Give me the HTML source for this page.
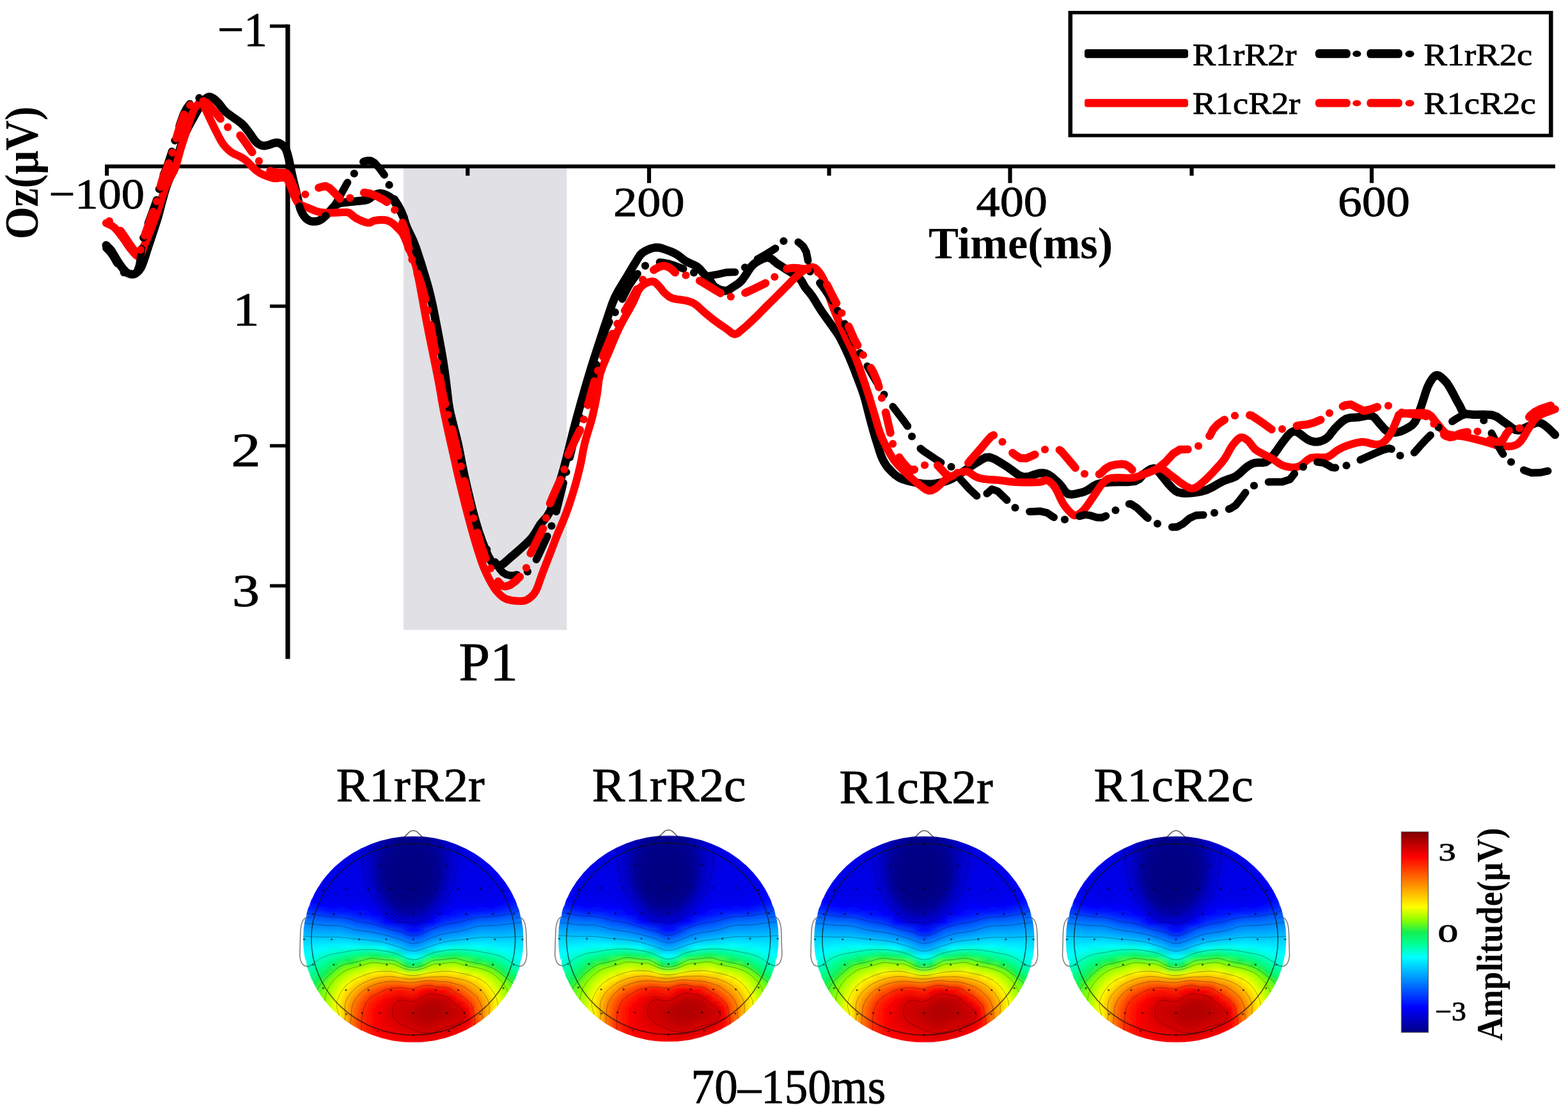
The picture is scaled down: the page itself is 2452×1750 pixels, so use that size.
<!DOCTYPE html>
<html lang="en"><head><meta charset="utf-8"><title>ERP Oz P1 waveforms and topographies</title>
<style>
html,body{margin:0;padding:0;background:#fff}
body{width:2452px;height:1750px;overflow:hidden}
svg{display:block;font-family:"Liberation Serif","DejaVu Serif",serif}
</style></head>
<body>
<svg width="2452" height="1750" viewBox="0 0 2452 1750">
<defs>
<filter id="tb" x="-5%" y="-5%" width="110%" height="110%"><feGaussianBlur stdDeviation="1.2"/></filter>
<linearGradient id="g0" x1="0" y1="0" x2="0" y2="1"><stop offset="0.000" stop-color="#006aff"/><stop offset="0.042" stop-color="#0073ff"/><stop offset="0.083" stop-color="#007cff"/><stop offset="0.125" stop-color="#0086ff"/><stop offset="0.167" stop-color="#008eff"/><stop offset="0.208" stop-color="#0097ff"/><stop offset="0.250" stop-color="#00a0ff"/><stop offset="0.292" stop-color="#00a8ff"/><stop offset="0.333" stop-color="#00afff"/><stop offset="0.375" stop-color="#00b8ff"/><stop offset="0.417" stop-color="#00c1ff"/><stop offset="0.458" stop-color="#00c9ff"/><stop offset="0.500" stop-color="#00d0ff"/><stop offset="0.542" stop-color="#00d7ff"/><stop offset="0.583" stop-color="#00ddff"/><stop offset="0.625" stop-color="#00e2ff"/><stop offset="0.667" stop-color="#00e8ff"/><stop offset="0.708" stop-color="#00ecff"/><stop offset="0.750" stop-color="#00f1ff"/><stop offset="0.792" stop-color="#00f5ff"/><stop offset="0.833" stop-color="#00faff"/><stop offset="0.875" stop-color="#00feff"/><stop offset="0.917" stop-color="#00fffb"/><stop offset="0.958" stop-color="#00fff4"/><stop offset="1.000" stop-color="#00ffed"/></linearGradient><linearGradient id="g1" x1="0" y1="0" x2="0" y2="1"><stop offset="0.000" stop-color="#001dff"/><stop offset="0.042" stop-color="#002bff"/><stop offset="0.083" stop-color="#003aff"/><stop offset="0.125" stop-color="#004dff"/><stop offset="0.167" stop-color="#005fff"/><stop offset="0.208" stop-color="#006eff"/><stop offset="0.250" stop-color="#007eff"/><stop offset="0.292" stop-color="#008dff"/><stop offset="0.333" stop-color="#009bff"/><stop offset="0.375" stop-color="#00a8ff"/><stop offset="0.417" stop-color="#00b5ff"/><stop offset="0.458" stop-color="#00c4ff"/><stop offset="0.500" stop-color="#00d1ff"/><stop offset="0.542" stop-color="#00dcff"/><stop offset="0.583" stop-color="#00e5ff"/><stop offset="0.625" stop-color="#00eeff"/><stop offset="0.667" stop-color="#00f6ff"/><stop offset="0.708" stop-color="#00fdff"/><stop offset="0.750" stop-color="#00fff7"/><stop offset="0.792" stop-color="#00ffeb"/><stop offset="0.833" stop-color="#00ffdf"/><stop offset="0.875" stop-color="#00ffd3"/><stop offset="0.917" stop-color="#00ffc5"/><stop offset="0.958" stop-color="#00ffb6"/><stop offset="1.000" stop-color="#00ffa7"/></linearGradient><linearGradient id="g2" x1="0" y1="0" x2="0" y2="1"><stop offset="0.000" stop-color="#0000fd"/><stop offset="0.042" stop-color="#0005ff"/><stop offset="0.083" stop-color="#000fff"/><stop offset="0.125" stop-color="#0020ff"/><stop offset="0.167" stop-color="#0034ff"/><stop offset="0.208" stop-color="#004dff"/><stop offset="0.250" stop-color="#0063ff"/><stop offset="0.292" stop-color="#0078ff"/><stop offset="0.333" stop-color="#008bff"/><stop offset="0.375" stop-color="#009dff"/><stop offset="0.417" stop-color="#00aeff"/><stop offset="0.458" stop-color="#00c0ff"/><stop offset="0.500" stop-color="#00d1ff"/><stop offset="0.542" stop-color="#00dfff"/><stop offset="0.583" stop-color="#00ecff"/><stop offset="0.625" stop-color="#00f7ff"/><stop offset="0.667" stop-color="#00fffc"/><stop offset="0.708" stop-color="#00ffec"/><stop offset="0.750" stop-color="#00ffdd"/><stop offset="0.792" stop-color="#00ffcd"/><stop offset="0.833" stop-color="#00ffbb"/><stop offset="0.875" stop-color="#00ffa6"/><stop offset="0.917" stop-color="#01fe93"/><stop offset="0.958" stop-color="#05fb86"/><stop offset="1.000" stop-color="#09f777"/></linearGradient><linearGradient id="g3" x1="0" y1="0" x2="0" y2="1"><stop offset="0.000" stop-color="#0000f2"/><stop offset="0.042" stop-color="#0000f6"/><stop offset="0.083" stop-color="#0000fc"/><stop offset="0.125" stop-color="#0005ff"/><stop offset="0.167" stop-color="#0015ff"/><stop offset="0.208" stop-color="#002dff"/><stop offset="0.250" stop-color="#004aff"/><stop offset="0.292" stop-color="#0065ff"/><stop offset="0.333" stop-color="#007dff"/><stop offset="0.375" stop-color="#0093ff"/><stop offset="0.417" stop-color="#00a7ff"/><stop offset="0.458" stop-color="#00bcff"/><stop offset="0.500" stop-color="#00d0ff"/><stop offset="0.542" stop-color="#00e2ff"/><stop offset="0.583" stop-color="#00f1ff"/><stop offset="0.625" stop-color="#00ffff"/><stop offset="0.667" stop-color="#00ffea"/><stop offset="0.708" stop-color="#00ffd6"/><stop offset="0.750" stop-color="#00ffc2"/><stop offset="0.792" stop-color="#00ffab"/><stop offset="0.833" stop-color="#01fe93"/><stop offset="0.875" stop-color="#06fa82"/><stop offset="0.917" stop-color="#0cf56d"/><stop offset="0.958" stop-color="#11f059"/><stop offset="1.000" stop-color="#1fef49"/></linearGradient><linearGradient id="g4" x1="0" y1="0" x2="0" y2="1"><stop offset="0.000" stop-color="#0000ee"/><stop offset="0.042" stop-color="#0000ef"/><stop offset="0.083" stop-color="#0000f2"/><stop offset="0.125" stop-color="#0000f7"/><stop offset="0.167" stop-color="#0002ff"/><stop offset="0.208" stop-color="#0013ff"/><stop offset="0.250" stop-color="#0030ff"/><stop offset="0.292" stop-color="#0053ff"/><stop offset="0.333" stop-color="#006fff"/><stop offset="0.375" stop-color="#0089ff"/><stop offset="0.417" stop-color="#00a1ff"/><stop offset="0.458" stop-color="#00b8ff"/><stop offset="0.500" stop-color="#00d0ff"/><stop offset="0.542" stop-color="#00e5ff"/><stop offset="0.583" stop-color="#00f7ff"/><stop offset="0.625" stop-color="#00fff1"/><stop offset="0.667" stop-color="#00ffd7"/><stop offset="0.708" stop-color="#00ffbd"/><stop offset="0.750" stop-color="#00ffa3"/><stop offset="0.792" stop-color="#03fc8c"/><stop offset="0.833" stop-color="#09f775"/><stop offset="0.875" stop-color="#11f15b"/><stop offset="0.917" stop-color="#26f144"/><stop offset="0.958" stop-color="#41f432"/><stop offset="1.000" stop-color="#4ff629"/></linearGradient><linearGradient id="g5" x1="0" y1="0" x2="0" y2="1"><stop offset="0.000" stop-color="#0000ec"/><stop offset="0.042" stop-color="#0000ec"/><stop offset="0.083" stop-color="#0000ec"/><stop offset="0.125" stop-color="#0000ef"/><stop offset="0.167" stop-color="#0000f6"/><stop offset="0.208" stop-color="#0002ff"/><stop offset="0.250" stop-color="#001aff"/><stop offset="0.292" stop-color="#003eff"/><stop offset="0.333" stop-color="#0063ff"/><stop offset="0.375" stop-color="#0080ff"/><stop offset="0.417" stop-color="#009cff"/><stop offset="0.458" stop-color="#00b4ff"/><stop offset="0.500" stop-color="#00d0ff"/><stop offset="0.542" stop-color="#00e8ff"/><stop offset="0.583" stop-color="#00fdff"/><stop offset="0.625" stop-color="#00ffe1"/><stop offset="0.667" stop-color="#00ffc2"/><stop offset="0.708" stop-color="#00ffa3"/><stop offset="0.750" stop-color="#04fc89"/><stop offset="0.792" stop-color="#0cf56e"/><stop offset="0.833" stop-color="#14ee50"/><stop offset="0.875" stop-color="#3df435"/><stop offset="0.917" stop-color="#59f822"/><stop offset="0.958" stop-color="#69fa18"/><stop offset="1.000" stop-color="#6ffb13"/></linearGradient><linearGradient id="g6" x1="0" y1="0" x2="0" y2="1"><stop offset="0.000" stop-color="#0000ec"/><stop offset="0.042" stop-color="#0000eb"/><stop offset="0.083" stop-color="#0000ea"/><stop offset="0.125" stop-color="#0000eb"/><stop offset="0.167" stop-color="#0000ee"/><stop offset="0.208" stop-color="#0000f7"/><stop offset="0.250" stop-color="#0008ff"/><stop offset="0.292" stop-color="#002bff"/><stop offset="0.333" stop-color="#0057ff"/><stop offset="0.375" stop-color="#0078ff"/><stop offset="0.417" stop-color="#0097ff"/><stop offset="0.458" stop-color="#00b1ff"/><stop offset="0.500" stop-color="#00d0ff"/><stop offset="0.542" stop-color="#00ebff"/><stop offset="0.583" stop-color="#00fff9"/><stop offset="0.625" stop-color="#00ffd1"/><stop offset="0.667" stop-color="#00ffab"/><stop offset="0.708" stop-color="#03fc8b"/><stop offset="0.750" stop-color="#0cf56d"/><stop offset="0.792" stop-color="#1bef4c"/><stop offset="0.833" stop-color="#4af62c"/><stop offset="0.875" stop-color="#6cfa15"/><stop offset="0.917" stop-color="#7efd09"/><stop offset="0.958" stop-color="#86fe04"/><stop offset="1.000" stop-color="#8aff01"/></linearGradient><linearGradient id="g7" x1="0" y1="0" x2="0" y2="1"><stop offset="0.000" stop-color="#0000eb"/><stop offset="0.042" stop-color="#0000eb"/><stop offset="0.083" stop-color="#0000ea"/><stop offset="0.125" stop-color="#0000e9"/><stop offset="0.167" stop-color="#0000ea"/><stop offset="0.208" stop-color="#0000ef"/><stop offset="0.250" stop-color="#0000fc"/><stop offset="0.292" stop-color="#0019ff"/><stop offset="0.333" stop-color="#0049ff"/><stop offset="0.375" stop-color="#0071ff"/><stop offset="0.417" stop-color="#0092ff"/><stop offset="0.458" stop-color="#00b0ff"/><stop offset="0.500" stop-color="#00d0ff"/><stop offset="0.542" stop-color="#00eeff"/><stop offset="0.583" stop-color="#00ffee"/><stop offset="0.625" stop-color="#00ffc0"/><stop offset="0.667" stop-color="#00ff94"/><stop offset="0.708" stop-color="#0af774"/><stop offset="0.750" stop-color="#17ee4e"/><stop offset="0.792" stop-color="#4ef629"/><stop offset="0.833" stop-color="#79fc0c"/><stop offset="0.875" stop-color="#8dff00"/><stop offset="0.917" stop-color="#9aff00"/><stop offset="0.958" stop-color="#a1ff00"/><stop offset="1.000" stop-color="#a6ff00"/></linearGradient><linearGradient id="g8" x1="0" y1="0" x2="0" y2="1"><stop offset="0.000" stop-color="#0000ea"/><stop offset="0.042" stop-color="#0000ea"/><stop offset="0.083" stop-color="#0000e9"/><stop offset="0.125" stop-color="#0000e8"/><stop offset="0.167" stop-color="#0000e8"/><stop offset="0.208" stop-color="#0000ea"/><stop offset="0.250" stop-color="#0000f4"/><stop offset="0.292" stop-color="#000aff"/><stop offset="0.333" stop-color="#003bff"/><stop offset="0.375" stop-color="#006aff"/><stop offset="0.417" stop-color="#008eff"/><stop offset="0.458" stop-color="#00aeff"/><stop offset="0.500" stop-color="#00d1ff"/><stop offset="0.542" stop-color="#00f1ff"/><stop offset="0.583" stop-color="#00ffe3"/><stop offset="0.625" stop-color="#00ffae"/><stop offset="0.667" stop-color="#05fa83"/><stop offset="0.708" stop-color="#12f058"/><stop offset="0.750" stop-color="#48f52d"/><stop offset="0.792" stop-color="#7dfd0a"/><stop offset="0.833" stop-color="#98ff00"/><stop offset="0.875" stop-color="#abff00"/><stop offset="0.917" stop-color="#b9ff00"/><stop offset="0.958" stop-color="#c1ff00"/><stop offset="1.000" stop-color="#beff00"/></linearGradient><linearGradient id="g9" x1="0" y1="0" x2="0" y2="1"><stop offset="0.000" stop-color="#0000e9"/><stop offset="0.042" stop-color="#0000e9"/><stop offset="0.083" stop-color="#0000e9"/><stop offset="0.125" stop-color="#0000e8"/><stop offset="0.167" stop-color="#0000e7"/><stop offset="0.208" stop-color="#0000e8"/><stop offset="0.250" stop-color="#0000ef"/><stop offset="0.292" stop-color="#0003ff"/><stop offset="0.333" stop-color="#002fff"/><stop offset="0.375" stop-color="#0063ff"/><stop offset="0.417" stop-color="#008bff"/><stop offset="0.458" stop-color="#00acff"/><stop offset="0.500" stop-color="#00d1ff"/><stop offset="0.542" stop-color="#00f3ff"/><stop offset="0.583" stop-color="#00ffd9"/><stop offset="0.625" stop-color="#00ff9c"/><stop offset="0.667" stop-color="#0cf56c"/><stop offset="0.708" stop-color="#36f339"/><stop offset="0.750" stop-color="#76fc0e"/><stop offset="0.792" stop-color="#9bff00"/><stop offset="0.833" stop-color="#b6ff00"/><stop offset="0.875" stop-color="#ccff00"/><stop offset="0.917" stop-color="#dcff00"/><stop offset="0.958" stop-color="#dfff00"/><stop offset="1.000" stop-color="#d3ff00"/></linearGradient><linearGradient id="g10" x1="0" y1="0" x2="0" y2="1"><stop offset="0.000" stop-color="#0000e8"/><stop offset="0.042" stop-color="#0000e9"/><stop offset="0.083" stop-color="#0000e9"/><stop offset="0.125" stop-color="#0000e8"/><stop offset="0.167" stop-color="#0000e7"/><stop offset="0.208" stop-color="#0000e7"/><stop offset="0.250" stop-color="#0000eb"/><stop offset="0.292" stop-color="#0000fc"/><stop offset="0.333" stop-color="#0025ff"/><stop offset="0.375" stop-color="#005dff"/><stop offset="0.417" stop-color="#0087ff"/><stop offset="0.458" stop-color="#00abff"/><stop offset="0.500" stop-color="#00d1ff"/><stop offset="0.542" stop-color="#00f6ff"/><stop offset="0.583" stop-color="#00ffcf"/><stop offset="0.625" stop-color="#02fd8d"/><stop offset="0.667" stop-color="#14ee52"/><stop offset="0.708" stop-color="#61f91d"/><stop offset="0.750" stop-color="#95ff00"/><stop offset="0.792" stop-color="#b9ff00"/><stop offset="0.833" stop-color="#d6ff00"/><stop offset="0.875" stop-color="#efff00"/><stop offset="0.917" stop-color="#ffff00"/><stop offset="0.958" stop-color="#f6ff00"/><stop offset="1.000" stop-color="#eaff00"/></linearGradient><linearGradient id="g11" x1="0" y1="0" x2="0" y2="1"><stop offset="0.000" stop-color="#0000e7"/><stop offset="0.042" stop-color="#0000e8"/><stop offset="0.083" stop-color="#0000e8"/><stop offset="0.125" stop-color="#0000e8"/><stop offset="0.167" stop-color="#0000e7"/><stop offset="0.208" stop-color="#0000e6"/><stop offset="0.250" stop-color="#0000e9"/><stop offset="0.292" stop-color="#0000f8"/><stop offset="0.333" stop-color="#001cff"/><stop offset="0.375" stop-color="#0057ff"/><stop offset="0.417" stop-color="#0083ff"/><stop offset="0.458" stop-color="#00a8ff"/><stop offset="0.500" stop-color="#00d1ff"/><stop offset="0.542" stop-color="#00f8ff"/><stop offset="0.583" stop-color="#00ffc6"/><stop offset="0.625" stop-color="#06fa80"/><stop offset="0.667" stop-color="#3bf436"/><stop offset="0.708" stop-color="#83fe06"/><stop offset="0.750" stop-color="#afff00"/><stop offset="0.792" stop-color="#d7ff00"/><stop offset="0.833" stop-color="#f7ff00"/><stop offset="0.875" stop-color="#fff000"/><stop offset="0.917" stop-color="#ffe800"/><stop offset="0.958" stop-color="#fff300"/><stop offset="1.000" stop-color="#fff400"/></linearGradient><linearGradient id="g12" x1="0" y1="0" x2="0" y2="1"><stop offset="0.000" stop-color="#0000e5"/><stop offset="0.042" stop-color="#0000e7"/><stop offset="0.083" stop-color="#0000e8"/><stop offset="0.125" stop-color="#0000e8"/><stop offset="0.167" stop-color="#0000e7"/><stop offset="0.208" stop-color="#0000e6"/><stop offset="0.250" stop-color="#0000e8"/><stop offset="0.292" stop-color="#0000f4"/><stop offset="0.333" stop-color="#0014ff"/><stop offset="0.375" stop-color="#004dff"/><stop offset="0.417" stop-color="#007eff"/><stop offset="0.458" stop-color="#00a5ff"/><stop offset="0.500" stop-color="#00d0ff"/><stop offset="0.542" stop-color="#00faff"/><stop offset="0.583" stop-color="#00ffbb"/><stop offset="0.625" stop-color="#0bf56f"/><stop offset="0.667" stop-color="#5ef81f"/><stop offset="0.708" stop-color="#9bff00"/><stop offset="0.750" stop-color="#caff00"/><stop offset="0.792" stop-color="#f5ff00"/><stop offset="0.833" stop-color="#ffea00"/><stop offset="0.875" stop-color="#ffd500"/><stop offset="0.917" stop-color="#ffd000"/><stop offset="0.958" stop-color="#ffd800"/><stop offset="1.000" stop-color="#ffd100"/></linearGradient><linearGradient id="g13" x1="0" y1="0" x2="0" y2="1"><stop offset="0.000" stop-color="#0000e4"/><stop offset="0.042" stop-color="#0000e5"/><stop offset="0.083" stop-color="#0000e7"/><stop offset="0.125" stop-color="#0000e8"/><stop offset="0.167" stop-color="#0000e7"/><stop offset="0.208" stop-color="#0000e6"/><stop offset="0.250" stop-color="#0000e7"/><stop offset="0.292" stop-color="#0000f1"/><stop offset="0.333" stop-color="#000cff"/><stop offset="0.375" stop-color="#0043ff"/><stop offset="0.417" stop-color="#0076ff"/><stop offset="0.458" stop-color="#00a0ff"/><stop offset="0.500" stop-color="#00ceff"/><stop offset="0.542" stop-color="#00fdff"/><stop offset="0.583" stop-color="#00ffae"/><stop offset="0.625" stop-color="#10f25f"/><stop offset="0.667" stop-color="#79fc0d"/><stop offset="0.708" stop-color="#b2ff00"/><stop offset="0.750" stop-color="#e5ff00"/><stop offset="0.792" stop-color="#ffee00"/><stop offset="0.833" stop-color="#ffcf00"/><stop offset="0.875" stop-color="#ffba00"/><stop offset="0.917" stop-color="#ffb400"/><stop offset="0.958" stop-color="#ffb500"/><stop offset="1.000" stop-color="#ffad00"/></linearGradient><linearGradient id="g14" x1="0" y1="0" x2="0" y2="1"><stop offset="0.000" stop-color="#0000e4"/><stop offset="0.042" stop-color="#0000e4"/><stop offset="0.083" stop-color="#0000e6"/><stop offset="0.125" stop-color="#0000e7"/><stop offset="0.167" stop-color="#0000e7"/><stop offset="0.208" stop-color="#0000e7"/><stop offset="0.250" stop-color="#0000e7"/><stop offset="0.292" stop-color="#0000ef"/><stop offset="0.333" stop-color="#0007ff"/><stop offset="0.375" stop-color="#0038ff"/><stop offset="0.417" stop-color="#006eff"/><stop offset="0.458" stop-color="#009bff"/><stop offset="0.500" stop-color="#00cbff"/><stop offset="0.542" stop-color="#00fffe"/><stop offset="0.583" stop-color="#00ffa2"/><stop offset="0.625" stop-color="#14ee50"/><stop offset="0.667" stop-color="#8bff00"/><stop offset="0.708" stop-color="#c8ff00"/><stop offset="0.750" stop-color="#ffff00"/><stop offset="0.792" stop-color="#ffd600"/><stop offset="0.833" stop-color="#ffb400"/><stop offset="0.875" stop-color="#ff9d00"/><stop offset="0.917" stop-color="#ff9400"/><stop offset="0.958" stop-color="#ff9100"/><stop offset="1.000" stop-color="#ff8900"/></linearGradient><linearGradient id="g15" x1="0" y1="0" x2="0" y2="1"><stop offset="0.000" stop-color="#0000e3"/><stop offset="0.042" stop-color="#0000e3"/><stop offset="0.083" stop-color="#0000e5"/><stop offset="0.125" stop-color="#0000e6"/><stop offset="0.167" stop-color="#0000e7"/><stop offset="0.208" stop-color="#0000e7"/><stop offset="0.250" stop-color="#0000e7"/><stop offset="0.292" stop-color="#0000ee"/><stop offset="0.333" stop-color="#0003ff"/><stop offset="0.375" stop-color="#002eff"/><stop offset="0.417" stop-color="#0065ff"/><stop offset="0.458" stop-color="#0095ff"/><stop offset="0.500" stop-color="#00c9ff"/><stop offset="0.542" stop-color="#00fff9"/><stop offset="0.583" stop-color="#00ff96"/><stop offset="0.625" stop-color="#2bf140"/><stop offset="0.667" stop-color="#9bff00"/><stop offset="0.708" stop-color="#ddff00"/><stop offset="0.750" stop-color="#ffe900"/><stop offset="0.792" stop-color="#ffbd00"/><stop offset="0.833" stop-color="#ff9800"/><stop offset="0.875" stop-color="#ff7e00"/><stop offset="0.917" stop-color="#ff7600"/><stop offset="0.958" stop-color="#ff7100"/><stop offset="1.000" stop-color="#ff6e00"/></linearGradient><linearGradient id="g16" x1="0" y1="0" x2="0" y2="1"><stop offset="0.000" stop-color="#0000e1"/><stop offset="0.042" stop-color="#0000e2"/><stop offset="0.083" stop-color="#0000e3"/><stop offset="0.125" stop-color="#0000e5"/><stop offset="0.167" stop-color="#0000e6"/><stop offset="0.208" stop-color="#0000e6"/><stop offset="0.250" stop-color="#0000e8"/><stop offset="0.292" stop-color="#0000ed"/><stop offset="0.333" stop-color="#0000ff"/><stop offset="0.375" stop-color="#0026ff"/><stop offset="0.417" stop-color="#005dff"/><stop offset="0.458" stop-color="#0090ff"/><stop offset="0.500" stop-color="#00c6ff"/><stop offset="0.542" stop-color="#00fff4"/><stop offset="0.583" stop-color="#02fd8e"/><stop offset="0.625" stop-color="#42f531"/><stop offset="0.667" stop-color="#abff00"/><stop offset="0.708" stop-color="#f2ff00"/><stop offset="0.750" stop-color="#ffd400"/><stop offset="0.792" stop-color="#ffa400"/><stop offset="0.833" stop-color="#ff7c00"/><stop offset="0.875" stop-color="#ff6600"/><stop offset="0.917" stop-color="#ff5d00"/><stop offset="0.958" stop-color="#ff5800"/><stop offset="1.000" stop-color="#ff5600"/></linearGradient><linearGradient id="g17" x1="0" y1="0" x2="0" y2="1"><stop offset="0.000" stop-color="#0000df"/><stop offset="0.042" stop-color="#0000df"/><stop offset="0.083" stop-color="#0000e0"/><stop offset="0.125" stop-color="#0000e2"/><stop offset="0.167" stop-color="#0000e4"/><stop offset="0.208" stop-color="#0000e5"/><stop offset="0.250" stop-color="#0000e7"/><stop offset="0.292" stop-color="#0000ec"/><stop offset="0.333" stop-color="#0000fc"/><stop offset="0.375" stop-color="#001eff"/><stop offset="0.417" stop-color="#0057ff"/><stop offset="0.458" stop-color="#008bff"/><stop offset="0.500" stop-color="#00c4ff"/><stop offset="0.542" stop-color="#00fff0"/><stop offset="0.583" stop-color="#05fb86"/><stop offset="0.625" stop-color="#59f822"/><stop offset="0.667" stop-color="#baff00"/><stop offset="0.708" stop-color="#fff900"/><stop offset="0.750" stop-color="#ffbe00"/><stop offset="0.792" stop-color="#ff8900"/><stop offset="0.833" stop-color="#ff6300"/><stop offset="0.875" stop-color="#ff4e00"/><stop offset="0.917" stop-color="#ff4400"/><stop offset="0.958" stop-color="#ff3f00"/><stop offset="1.000" stop-color="#ff4100"/></linearGradient><linearGradient id="g18" x1="0" y1="0" x2="0" y2="1"><stop offset="0.000" stop-color="#0000db"/><stop offset="0.042" stop-color="#0000dc"/><stop offset="0.083" stop-color="#0000dc"/><stop offset="0.125" stop-color="#0000de"/><stop offset="0.167" stop-color="#0000e0"/><stop offset="0.208" stop-color="#0000e2"/><stop offset="0.250" stop-color="#0000e5"/><stop offset="0.292" stop-color="#0000ea"/><stop offset="0.333" stop-color="#0000f9"/><stop offset="0.375" stop-color="#0018ff"/><stop offset="0.417" stop-color="#0050ff"/><stop offset="0.458" stop-color="#0087ff"/><stop offset="0.500" stop-color="#00c1ff"/><stop offset="0.542" stop-color="#00ffec"/><stop offset="0.583" stop-color="#07f97c"/><stop offset="0.625" stop-color="#71fb12"/><stop offset="0.667" stop-color="#caff00"/><stop offset="0.708" stop-color="#ffe900"/><stop offset="0.750" stop-color="#ffa800"/><stop offset="0.792" stop-color="#ff7100"/><stop offset="0.833" stop-color="#ff4a00"/><stop offset="0.875" stop-color="#ff3500"/><stop offset="0.917" stop-color="#ff2d00"/><stop offset="0.958" stop-color="#ff2b00"/><stop offset="1.000" stop-color="#ff2f00"/></linearGradient><linearGradient id="g19" x1="0" y1="0" x2="0" y2="1"><stop offset="0.000" stop-color="#0000d5"/><stop offset="0.042" stop-color="#0000d4"/><stop offset="0.083" stop-color="#0000d5"/><stop offset="0.125" stop-color="#0000d5"/><stop offset="0.167" stop-color="#0000da"/><stop offset="0.208" stop-color="#0000dd"/><stop offset="0.250" stop-color="#0000e2"/><stop offset="0.292" stop-color="#0000e8"/><stop offset="0.333" stop-color="#0000f5"/><stop offset="0.375" stop-color="#0012ff"/><stop offset="0.417" stop-color="#004bff"/><stop offset="0.458" stop-color="#0083ff"/><stop offset="0.500" stop-color="#00bfff"/><stop offset="0.542" stop-color="#00ffe9"/><stop offset="0.583" stop-color="#0bf670"/><stop offset="0.625" stop-color="#85fe05"/><stop offset="0.667" stop-color="#dbff00"/><stop offset="0.708" stop-color="#ffd800"/><stop offset="0.750" stop-color="#ff9000"/><stop offset="0.792" stop-color="#ff5a00"/><stop offset="0.833" stop-color="#ff3100"/><stop offset="0.875" stop-color="#ff2400"/><stop offset="0.917" stop-color="#ff2000"/><stop offset="0.958" stop-color="#ff2000"/><stop offset="1.000" stop-color="#ff2600"/></linearGradient><linearGradient id="g20" x1="0" y1="0" x2="0" y2="1"><stop offset="0.000" stop-color="#0000ce"/><stop offset="0.042" stop-color="#0000cc"/><stop offset="0.083" stop-color="#0000ca"/><stop offset="0.125" stop-color="#0000ca"/><stop offset="0.167" stop-color="#0000ce"/><stop offset="0.208" stop-color="#0000d3"/><stop offset="0.250" stop-color="#0000dd"/><stop offset="0.292" stop-color="#0000e4"/><stop offset="0.333" stop-color="#0000ef"/><stop offset="0.375" stop-color="#000bff"/><stop offset="0.417" stop-color="#0045ff"/><stop offset="0.458" stop-color="#007fff"/><stop offset="0.500" stop-color="#00bcff"/><stop offset="0.542" stop-color="#00ffe8"/><stop offset="0.583" stop-color="#0ef364"/><stop offset="0.625" stop-color="#94ff00"/><stop offset="0.667" stop-color="#eaff00"/><stop offset="0.708" stop-color="#ffc700"/><stop offset="0.750" stop-color="#ff7b00"/><stop offset="0.792" stop-color="#ff4400"/><stop offset="0.833" stop-color="#ff2200"/><stop offset="0.875" stop-color="#ff1700"/><stop offset="0.917" stop-color="#ff1400"/><stop offset="0.958" stop-color="#ff1600"/><stop offset="1.000" stop-color="#ff1f00"/></linearGradient><linearGradient id="g21" x1="0" y1="0" x2="0" y2="1"><stop offset="0.000" stop-color="#0000c7"/><stop offset="0.042" stop-color="#0000c2"/><stop offset="0.083" stop-color="#0000bf"/><stop offset="0.125" stop-color="#0000bd"/><stop offset="0.167" stop-color="#0000bf"/><stop offset="0.208" stop-color="#0000c5"/><stop offset="0.250" stop-color="#0000d1"/><stop offset="0.292" stop-color="#0000de"/><stop offset="0.333" stop-color="#0000e9"/><stop offset="0.375" stop-color="#0005ff"/><stop offset="0.417" stop-color="#003dff"/><stop offset="0.458" stop-color="#007bff"/><stop offset="0.500" stop-color="#00b8ff"/><stop offset="0.542" stop-color="#00ffe9"/><stop offset="0.583" stop-color="#10f15d"/><stop offset="0.625" stop-color="#9fff00"/><stop offset="0.667" stop-color="#f9ff00"/><stop offset="0.708" stop-color="#ffb600"/><stop offset="0.750" stop-color="#ff6a00"/><stop offset="0.792" stop-color="#ff2f00"/><stop offset="0.833" stop-color="#ff1600"/><stop offset="0.875" stop-color="#ff0a00"/><stop offset="0.917" stop-color="#ff0800"/><stop offset="0.958" stop-color="#ff0d00"/><stop offset="1.000" stop-color="#ff1800"/></linearGradient><linearGradient id="g22" x1="0" y1="0" x2="0" y2="1"><stop offset="0.000" stop-color="#0000c0"/><stop offset="0.042" stop-color="#0000b8"/><stop offset="0.083" stop-color="#0000b3"/><stop offset="0.125" stop-color="#0000b0"/><stop offset="0.167" stop-color="#0000b0"/><stop offset="0.208" stop-color="#0000b5"/><stop offset="0.250" stop-color="#0000c1"/><stop offset="0.292" stop-color="#0000d3"/><stop offset="0.333" stop-color="#0000e4"/><stop offset="0.375" stop-color="#0000fc"/><stop offset="0.417" stop-color="#0034ff"/><stop offset="0.458" stop-color="#0076ff"/><stop offset="0.500" stop-color="#00b4ff"/><stop offset="0.542" stop-color="#00ffec"/><stop offset="0.583" stop-color="#10f15d"/><stop offset="0.625" stop-color="#a5ff00"/><stop offset="0.667" stop-color="#fffa00"/><stop offset="0.708" stop-color="#ffa600"/><stop offset="0.750" stop-color="#ff5b00"/><stop offset="0.792" stop-color="#ff2300"/><stop offset="0.833" stop-color="#ff0900"/><stop offset="0.875" stop-color="#fe0000"/><stop offset="0.917" stop-color="#fe0000"/><stop offset="0.958" stop-color="#ff0600"/><stop offset="1.000" stop-color="#ff1300"/></linearGradient><linearGradient id="g23" x1="0" y1="0" x2="0" y2="1"><stop offset="0.000" stop-color="#0000b9"/><stop offset="0.042" stop-color="#0000b0"/><stop offset="0.083" stop-color="#0000a8"/><stop offset="0.125" stop-color="#0000a2"/><stop offset="0.167" stop-color="#0000a0"/><stop offset="0.208" stop-color="#0000a4"/><stop offset="0.250" stop-color="#0000b0"/><stop offset="0.292" stop-color="#0000c3"/><stop offset="0.333" stop-color="#0000dd"/><stop offset="0.375" stop-color="#0000f1"/><stop offset="0.417" stop-color="#0028ff"/><stop offset="0.458" stop-color="#0071ff"/><stop offset="0.500" stop-color="#00b0ff"/><stop offset="0.542" stop-color="#00fff1"/><stop offset="0.583" stop-color="#0ff260"/><stop offset="0.625" stop-color="#a6ff00"/><stop offset="0.667" stop-color="#fff200"/><stop offset="0.708" stop-color="#ff9800"/><stop offset="0.750" stop-color="#ff4c00"/><stop offset="0.792" stop-color="#ff1700"/><stop offset="0.833" stop-color="#fc0000"/><stop offset="0.875" stop-color="#f60000"/><stop offset="0.917" stop-color="#f80000"/><stop offset="0.958" stop-color="#ff0000"/><stop offset="1.000" stop-color="#ff0f00"/></linearGradient><linearGradient id="g24" x1="0" y1="0" x2="0" y2="1"><stop offset="0.000" stop-color="#0000b3"/><stop offset="0.042" stop-color="#0000a7"/><stop offset="0.083" stop-color="#00009d"/><stop offset="0.125" stop-color="#000098"/><stop offset="0.167" stop-color="#000096"/><stop offset="0.208" stop-color="#000098"/><stop offset="0.250" stop-color="#00009f"/><stop offset="0.292" stop-color="#0000b3"/><stop offset="0.333" stop-color="#0000d0"/><stop offset="0.375" stop-color="#0000e8"/><stop offset="0.417" stop-color="#0019ff"/><stop offset="0.458" stop-color="#006aff"/><stop offset="0.500" stop-color="#00abff"/><stop offset="0.542" stop-color="#00fff9"/><stop offset="0.583" stop-color="#0ef365"/><stop offset="0.625" stop-color="#a5ff00"/><stop offset="0.667" stop-color="#ffeb00"/><stop offset="0.708" stop-color="#ff8b00"/><stop offset="0.750" stop-color="#ff3b00"/><stop offset="0.792" stop-color="#ff0a00"/><stop offset="0.833" stop-color="#f40000"/><stop offset="0.875" stop-color="#ef0000"/><stop offset="0.917" stop-color="#f20000"/><stop offset="0.958" stop-color="#fb0000"/><stop offset="1.000" stop-color="#ff0b00"/></linearGradient><linearGradient id="g25" x1="0" y1="0" x2="0" y2="1"><stop offset="0.000" stop-color="#0000ad"/><stop offset="0.042" stop-color="#00009f"/><stop offset="0.083" stop-color="#000097"/><stop offset="0.125" stop-color="#000091"/><stop offset="0.167" stop-color="#00008e"/><stop offset="0.208" stop-color="#00008f"/><stop offset="0.250" stop-color="#000094"/><stop offset="0.292" stop-color="#0000a2"/><stop offset="0.333" stop-color="#0000c0"/><stop offset="0.375" stop-color="#0000e0"/><stop offset="0.417" stop-color="#0008ff"/><stop offset="0.458" stop-color="#0063ff"/><stop offset="0.500" stop-color="#00a5ff"/><stop offset="0.542" stop-color="#00fdff"/><stop offset="0.583" stop-color="#0df469"/><stop offset="0.625" stop-color="#a3ff00"/><stop offset="0.667" stop-color="#ffe500"/><stop offset="0.708" stop-color="#ff8000"/><stop offset="0.750" stop-color="#ff2b00"/><stop offset="0.792" stop-color="#fd0000"/><stop offset="0.833" stop-color="#eb0000"/><stop offset="0.875" stop-color="#e80000"/><stop offset="0.917" stop-color="#ed0000"/><stop offset="0.958" stop-color="#f80000"/><stop offset="1.000" stop-color="#ff0800"/></linearGradient><linearGradient id="g26" x1="0" y1="0" x2="0" y2="1"><stop offset="0.000" stop-color="#0000a8"/><stop offset="0.042" stop-color="#00009a"/><stop offset="0.083" stop-color="#000092"/><stop offset="0.125" stop-color="#00008b"/><stop offset="0.167" stop-color="#000088"/><stop offset="0.208" stop-color="#000088"/><stop offset="0.250" stop-color="#00008b"/><stop offset="0.292" stop-color="#000097"/><stop offset="0.333" stop-color="#0000b1"/><stop offset="0.375" stop-color="#0000d5"/><stop offset="0.417" stop-color="#0000fb"/><stop offset="0.458" stop-color="#005bff"/><stop offset="0.500" stop-color="#009eff"/><stop offset="0.542" stop-color="#00f5ff"/><stop offset="0.583" stop-color="#0cf56e"/><stop offset="0.625" stop-color="#a4ff00"/><stop offset="0.667" stop-color="#ffe200"/><stop offset="0.708" stop-color="#ff7a00"/><stop offset="0.750" stop-color="#ff2200"/><stop offset="0.792" stop-color="#f40000"/><stop offset="0.833" stop-color="#e30000"/><stop offset="0.875" stop-color="#e10000"/><stop offset="0.917" stop-color="#e90000"/><stop offset="0.958" stop-color="#f50000"/><stop offset="1.000" stop-color="#ff0500"/></linearGradient><linearGradient id="g27" x1="0" y1="0" x2="0" y2="1"><stop offset="0.000" stop-color="#0000a2"/><stop offset="0.042" stop-color="#000096"/><stop offset="0.083" stop-color="#00008c"/><stop offset="0.125" stop-color="#000088"/><stop offset="0.167" stop-color="#000087"/><stop offset="0.208" stop-color="#000087"/><stop offset="0.250" stop-color="#000088"/><stop offset="0.292" stop-color="#00008f"/><stop offset="0.333" stop-color="#0000a3"/><stop offset="0.375" stop-color="#0000c8"/><stop offset="0.417" stop-color="#0000ee"/><stop offset="0.458" stop-color="#0052ff"/><stop offset="0.500" stop-color="#0097ff"/><stop offset="0.542" stop-color="#00ebff"/><stop offset="0.583" stop-color="#09f775"/><stop offset="0.625" stop-color="#a3ff00"/><stop offset="0.667" stop-color="#ffe300"/><stop offset="0.708" stop-color="#ff7700"/><stop offset="0.750" stop-color="#ff1b00"/><stop offset="0.792" stop-color="#ec0000"/><stop offset="0.833" stop-color="#db0000"/><stop offset="0.875" stop-color="#db0000"/><stop offset="0.917" stop-color="#e40000"/><stop offset="0.958" stop-color="#f20000"/><stop offset="1.000" stop-color="#ff0100"/></linearGradient><linearGradient id="g28" x1="0" y1="0" x2="0" y2="1"><stop offset="0.000" stop-color="#00009d"/><stop offset="0.042" stop-color="#000092"/><stop offset="0.083" stop-color="#000089"/><stop offset="0.125" stop-color="#000087"/><stop offset="0.167" stop-color="#000086"/><stop offset="0.208" stop-color="#000085"/><stop offset="0.250" stop-color="#000086"/><stop offset="0.292" stop-color="#000089"/><stop offset="0.333" stop-color="#000099"/><stop offset="0.375" stop-color="#0000bb"/><stop offset="0.417" stop-color="#0000e6"/><stop offset="0.458" stop-color="#0049ff"/><stop offset="0.500" stop-color="#0090ff"/><stop offset="0.542" stop-color="#00e0ff"/><stop offset="0.583" stop-color="#06fa83"/><stop offset="0.625" stop-color="#9bff00"/><stop offset="0.667" stop-color="#ffe900"/><stop offset="0.708" stop-color="#ff7600"/><stop offset="0.750" stop-color="#ff1600"/><stop offset="0.792" stop-color="#e40000"/><stop offset="0.833" stop-color="#d40000"/><stop offset="0.875" stop-color="#d50000"/><stop offset="0.917" stop-color="#e00000"/><stop offset="0.958" stop-color="#ef0000"/><stop offset="1.000" stop-color="#fe0000"/></linearGradient><linearGradient id="g29" x1="0" y1="0" x2="0" y2="1"><stop offset="0.000" stop-color="#00009a"/><stop offset="0.042" stop-color="#00008f"/><stop offset="0.083" stop-color="#000088"/><stop offset="0.125" stop-color="#000086"/><stop offset="0.167" stop-color="#000085"/><stop offset="0.208" stop-color="#000084"/><stop offset="0.250" stop-color="#000085"/><stop offset="0.292" stop-color="#000087"/><stop offset="0.333" stop-color="#000094"/><stop offset="0.375" stop-color="#0000b3"/><stop offset="0.417" stop-color="#0000e0"/><stop offset="0.458" stop-color="#0041ff"/><stop offset="0.500" stop-color="#0089ff"/><stop offset="0.542" stop-color="#00d4ff"/><stop offset="0.583" stop-color="#01ff94"/><stop offset="0.625" stop-color="#88fe03"/><stop offset="0.667" stop-color="#fff100"/><stop offset="0.708" stop-color="#ff7700"/><stop offset="0.750" stop-color="#ff1200"/><stop offset="0.792" stop-color="#dd0000"/><stop offset="0.833" stop-color="#d00000"/><stop offset="0.875" stop-color="#d10000"/><stop offset="0.917" stop-color="#dc0000"/><stop offset="0.958" stop-color="#ed0000"/><stop offset="1.000" stop-color="#fc0000"/></linearGradient><linearGradient id="g30" x1="0" y1="0" x2="0" y2="1"><stop offset="0.000" stop-color="#000099"/><stop offset="0.042" stop-color="#00008c"/><stop offset="0.083" stop-color="#000087"/><stop offset="0.125" stop-color="#000085"/><stop offset="0.167" stop-color="#000084"/><stop offset="0.208" stop-color="#000083"/><stop offset="0.250" stop-color="#000083"/><stop offset="0.292" stop-color="#000086"/><stop offset="0.333" stop-color="#000090"/><stop offset="0.375" stop-color="#0000ac"/><stop offset="0.417" stop-color="#0000dd"/><stop offset="0.458" stop-color="#0038ff"/><stop offset="0.500" stop-color="#0081ff"/><stop offset="0.542" stop-color="#00c8ff"/><stop offset="0.583" stop-color="#00ffb1"/><stop offset="0.625" stop-color="#66fa19"/><stop offset="0.667" stop-color="#fffd00"/><stop offset="0.708" stop-color="#ff7a00"/><stop offset="0.750" stop-color="#ff1200"/><stop offset="0.792" stop-color="#d80000"/><stop offset="0.833" stop-color="#cc0000"/><stop offset="0.875" stop-color="#ce0000"/><stop offset="0.917" stop-color="#d90000"/><stop offset="0.958" stop-color="#eb0000"/><stop offset="1.000" stop-color="#fb0000"/></linearGradient><linearGradient id="g31" x1="0" y1="0" x2="0" y2="1"><stop offset="0.000" stop-color="#000097"/><stop offset="0.042" stop-color="#00008a"/><stop offset="0.083" stop-color="#000087"/><stop offset="0.125" stop-color="#000085"/><stop offset="0.167" stop-color="#000083"/><stop offset="0.208" stop-color="#000083"/><stop offset="0.250" stop-color="#000083"/><stop offset="0.292" stop-color="#000085"/><stop offset="0.333" stop-color="#00008d"/><stop offset="0.375" stop-color="#0000a9"/><stop offset="0.417" stop-color="#0000db"/><stop offset="0.458" stop-color="#0029ff"/><stop offset="0.500" stop-color="#0078ff"/><stop offset="0.542" stop-color="#00baff"/><stop offset="0.583" stop-color="#00ffce"/><stop offset="0.625" stop-color="#3bf436"/><stop offset="0.667" stop-color="#f3ff00"/><stop offset="0.708" stop-color="#ff7e00"/><stop offset="0.750" stop-color="#ff1400"/><stop offset="0.792" stop-color="#da0000"/><stop offset="0.833" stop-color="#c90000"/><stop offset="0.875" stop-color="#ca0000"/><stop offset="0.917" stop-color="#d60000"/><stop offset="0.958" stop-color="#e90000"/><stop offset="1.000" stop-color="#fa0000"/></linearGradient><linearGradient id="g32" x1="0" y1="0" x2="0" y2="1"><stop offset="0.000" stop-color="#000097"/><stop offset="0.042" stop-color="#000089"/><stop offset="0.083" stop-color="#000086"/><stop offset="0.125" stop-color="#000084"/><stop offset="0.167" stop-color="#000083"/><stop offset="0.208" stop-color="#000083"/><stop offset="0.250" stop-color="#000083"/><stop offset="0.292" stop-color="#000085"/><stop offset="0.333" stop-color="#00008c"/><stop offset="0.375" stop-color="#0000a8"/><stop offset="0.417" stop-color="#0000d9"/><stop offset="0.458" stop-color="#001bff"/><stop offset="0.500" stop-color="#006eff"/><stop offset="0.542" stop-color="#00afff"/><stop offset="0.583" stop-color="#00ffe8"/><stop offset="0.625" stop-color="#14ee50"/><stop offset="0.667" stop-color="#e6ff00"/><stop offset="0.708" stop-color="#ff8400"/><stop offset="0.750" stop-color="#ff1900"/><stop offset="0.792" stop-color="#df0000"/><stop offset="0.833" stop-color="#c70000"/><stop offset="0.875" stop-color="#c60000"/><stop offset="0.917" stop-color="#d30000"/><stop offset="0.958" stop-color="#e60000"/><stop offset="1.000" stop-color="#f90000"/></linearGradient><linearGradient id="g33" x1="0" y1="0" x2="0" y2="1"><stop offset="0.000" stop-color="#000097"/><stop offset="0.042" stop-color="#000089"/><stop offset="0.083" stop-color="#000086"/><stop offset="0.125" stop-color="#000084"/><stop offset="0.167" stop-color="#000083"/><stop offset="0.208" stop-color="#000083"/><stop offset="0.250" stop-color="#000083"/><stop offset="0.292" stop-color="#000085"/><stop offset="0.333" stop-color="#00008c"/><stop offset="0.375" stop-color="#0000a8"/><stop offset="0.417" stop-color="#0000d8"/><stop offset="0.458" stop-color="#0011ff"/><stop offset="0.500" stop-color="#0067ff"/><stop offset="0.542" stop-color="#00a9ff"/><stop offset="0.583" stop-color="#00fffa"/><stop offset="0.625" stop-color="#0ff260"/><stop offset="0.667" stop-color="#ddff00"/><stop offset="0.708" stop-color="#ff8800"/><stop offset="0.750" stop-color="#ff1d00"/><stop offset="0.792" stop-color="#e20000"/><stop offset="0.833" stop-color="#c50000"/><stop offset="0.875" stop-color="#c20000"/><stop offset="0.917" stop-color="#d00000"/><stop offset="0.958" stop-color="#e40000"/><stop offset="1.000" stop-color="#f70000"/></linearGradient><linearGradient id="g34" x1="0" y1="0" x2="0" y2="1"><stop offset="0.000" stop-color="#000097"/><stop offset="0.042" stop-color="#000089"/><stop offset="0.083" stop-color="#000086"/><stop offset="0.125" stop-color="#000084"/><stop offset="0.167" stop-color="#000083"/><stop offset="0.208" stop-color="#000083"/><stop offset="0.250" stop-color="#000083"/><stop offset="0.292" stop-color="#000085"/><stop offset="0.333" stop-color="#00008d"/><stop offset="0.375" stop-color="#0000aa"/><stop offset="0.417" stop-color="#0000d8"/><stop offset="0.458" stop-color="#000cff"/><stop offset="0.500" stop-color="#0063ff"/><stop offset="0.542" stop-color="#00a6ff"/><stop offset="0.583" stop-color="#00feff"/><stop offset="0.625" stop-color="#0df467"/><stop offset="0.667" stop-color="#daff00"/><stop offset="0.708" stop-color="#ff8600"/><stop offset="0.750" stop-color="#ff1c00"/><stop offset="0.792" stop-color="#e20000"/><stop offset="0.833" stop-color="#c10000"/><stop offset="0.875" stop-color="#be0000"/><stop offset="0.917" stop-color="#cd0000"/><stop offset="0.958" stop-color="#e10000"/><stop offset="1.000" stop-color="#f60000"/></linearGradient><linearGradient id="g35" x1="0" y1="0" x2="0" y2="1"><stop offset="0.000" stop-color="#000098"/><stop offset="0.042" stop-color="#00008a"/><stop offset="0.083" stop-color="#000086"/><stop offset="0.125" stop-color="#000084"/><stop offset="0.167" stop-color="#000083"/><stop offset="0.208" stop-color="#000083"/><stop offset="0.250" stop-color="#000083"/><stop offset="0.292" stop-color="#000086"/><stop offset="0.333" stop-color="#00008f"/><stop offset="0.375" stop-color="#0000ad"/><stop offset="0.417" stop-color="#0000d9"/><stop offset="0.458" stop-color="#000fff"/><stop offset="0.500" stop-color="#0065ff"/><stop offset="0.542" stop-color="#00a8ff"/><stop offset="0.583" stop-color="#00fffb"/><stop offset="0.625" stop-color="#0ff261"/><stop offset="0.667" stop-color="#dfff00"/><stop offset="0.708" stop-color="#ff7f00"/><stop offset="0.750" stop-color="#ff1500"/><stop offset="0.792" stop-color="#db0000"/><stop offset="0.833" stop-color="#bd0000"/><stop offset="0.875" stop-color="#b90000"/><stop offset="0.917" stop-color="#c90000"/><stop offset="0.958" stop-color="#de0000"/><stop offset="1.000" stop-color="#f50000"/></linearGradient><linearGradient id="g36" x1="0" y1="0" x2="0" y2="1"><stop offset="0.000" stop-color="#000099"/><stop offset="0.042" stop-color="#00008c"/><stop offset="0.083" stop-color="#000087"/><stop offset="0.125" stop-color="#000085"/><stop offset="0.167" stop-color="#000084"/><stop offset="0.208" stop-color="#000083"/><stop offset="0.250" stop-color="#000084"/><stop offset="0.292" stop-color="#000087"/><stop offset="0.333" stop-color="#000092"/><stop offset="0.375" stop-color="#0000b1"/><stop offset="0.417" stop-color="#0000dc"/><stop offset="0.458" stop-color="#0019ff"/><stop offset="0.500" stop-color="#006cff"/><stop offset="0.542" stop-color="#00aeff"/><stop offset="0.583" stop-color="#00ffe9"/><stop offset="0.625" stop-color="#14ee51"/><stop offset="0.667" stop-color="#e9ff00"/><stop offset="0.708" stop-color="#ff7600"/><stop offset="0.750" stop-color="#ff0800"/><stop offset="0.792" stop-color="#d30000"/><stop offset="0.833" stop-color="#b70000"/><stop offset="0.875" stop-color="#b50000"/><stop offset="0.917" stop-color="#c60000"/><stop offset="0.958" stop-color="#dc0000"/><stop offset="1.000" stop-color="#f40000"/></linearGradient><linearGradient id="g37" x1="0" y1="0" x2="0" y2="1"><stop offset="0.000" stop-color="#00009a"/><stop offset="0.042" stop-color="#00008e"/><stop offset="0.083" stop-color="#000088"/><stop offset="0.125" stop-color="#000086"/><stop offset="0.167" stop-color="#000084"/><stop offset="0.208" stop-color="#000084"/><stop offset="0.250" stop-color="#000085"/><stop offset="0.292" stop-color="#000088"/><stop offset="0.333" stop-color="#000096"/><stop offset="0.375" stop-color="#0000b7"/><stop offset="0.417" stop-color="#0000e0"/><stop offset="0.458" stop-color="#0028ff"/><stop offset="0.500" stop-color="#0075ff"/><stop offset="0.542" stop-color="#00b8ff"/><stop offset="0.583" stop-color="#00ffd0"/><stop offset="0.625" stop-color="#37f338"/><stop offset="0.667" stop-color="#f6ff00"/><stop offset="0.708" stop-color="#ff6c00"/><stop offset="0.750" stop-color="#fb0000"/><stop offset="0.792" stop-color="#cb0000"/><stop offset="0.833" stop-color="#b30000"/><stop offset="0.875" stop-color="#b30000"/><stop offset="0.917" stop-color="#c40000"/><stop offset="0.958" stop-color="#da0000"/><stop offset="1.000" stop-color="#f30000"/></linearGradient><linearGradient id="g38" x1="0" y1="0" x2="0" y2="1"><stop offset="0.000" stop-color="#00009d"/><stop offset="0.042" stop-color="#000092"/><stop offset="0.083" stop-color="#000088"/><stop offset="0.125" stop-color="#000087"/><stop offset="0.167" stop-color="#000086"/><stop offset="0.208" stop-color="#000085"/><stop offset="0.250" stop-color="#000086"/><stop offset="0.292" stop-color="#000089"/><stop offset="0.333" stop-color="#00009b"/><stop offset="0.375" stop-color="#0000c1"/><stop offset="0.417" stop-color="#0000e7"/><stop offset="0.458" stop-color="#003bff"/><stop offset="0.500" stop-color="#007eff"/><stop offset="0.542" stop-color="#00c6ff"/><stop offset="0.583" stop-color="#00ffb2"/><stop offset="0.625" stop-color="#61f91c"/><stop offset="0.667" stop-color="#fffc00"/><stop offset="0.708" stop-color="#ff6600"/><stop offset="0.750" stop-color="#f30000"/><stop offset="0.792" stop-color="#c40000"/><stop offset="0.833" stop-color="#b30000"/><stop offset="0.875" stop-color="#b30000"/><stop offset="0.917" stop-color="#c30000"/><stop offset="0.958" stop-color="#da0000"/><stop offset="1.000" stop-color="#f30000"/></linearGradient><linearGradient id="g39" x1="0" y1="0" x2="0" y2="1"><stop offset="0.000" stop-color="#0000a2"/><stop offset="0.042" stop-color="#000095"/><stop offset="0.083" stop-color="#00008b"/><stop offset="0.125" stop-color="#000088"/><stop offset="0.167" stop-color="#000087"/><stop offset="0.208" stop-color="#000087"/><stop offset="0.250" stop-color="#000088"/><stop offset="0.292" stop-color="#000090"/><stop offset="0.333" stop-color="#0000a7"/><stop offset="0.375" stop-color="#0000cc"/><stop offset="0.417" stop-color="#0000f1"/><stop offset="0.458" stop-color="#004aff"/><stop offset="0.500" stop-color="#0087ff"/><stop offset="0.542" stop-color="#00d3ff"/><stop offset="0.583" stop-color="#00ff95"/><stop offset="0.625" stop-color="#84fe05"/><stop offset="0.667" stop-color="#fff400"/><stop offset="0.708" stop-color="#ff6500"/><stop offset="0.750" stop-color="#ee0000"/><stop offset="0.792" stop-color="#bf0000"/><stop offset="0.833" stop-color="#b30000"/><stop offset="0.875" stop-color="#b30000"/><stop offset="0.917" stop-color="#c40000"/><stop offset="0.958" stop-color="#da0000"/><stop offset="1.000" stop-color="#f30000"/></linearGradient><linearGradient id="g40" x1="0" y1="0" x2="0" y2="1"><stop offset="0.000" stop-color="#0000a8"/><stop offset="0.042" stop-color="#000099"/><stop offset="0.083" stop-color="#000091"/><stop offset="0.125" stop-color="#00008a"/><stop offset="0.167" stop-color="#000088"/><stop offset="0.208" stop-color="#000088"/><stop offset="0.250" stop-color="#00008c"/><stop offset="0.292" stop-color="#000098"/><stop offset="0.333" stop-color="#0000b4"/><stop offset="0.375" stop-color="#0000d9"/><stop offset="0.417" stop-color="#0000fe"/><stop offset="0.458" stop-color="#0057ff"/><stop offset="0.500" stop-color="#008fff"/><stop offset="0.542" stop-color="#00dfff"/><stop offset="0.583" stop-color="#06fa83"/><stop offset="0.625" stop-color="#97ff00"/><stop offset="0.667" stop-color="#ffed00"/><stop offset="0.708" stop-color="#ff6a00"/><stop offset="0.750" stop-color="#ef0000"/><stop offset="0.792" stop-color="#be0000"/><stop offset="0.833" stop-color="#b30000"/><stop offset="0.875" stop-color="#b30000"/><stop offset="0.917" stop-color="#c50000"/><stop offset="0.958" stop-color="#db0000"/><stop offset="1.000" stop-color="#f40000"/></linearGradient><linearGradient id="g41" x1="0" y1="0" x2="0" y2="1"><stop offset="0.000" stop-color="#0000ae"/><stop offset="0.042" stop-color="#00009f"/><stop offset="0.083" stop-color="#000096"/><stop offset="0.125" stop-color="#000091"/><stop offset="0.167" stop-color="#00008e"/><stop offset="0.208" stop-color="#00008f"/><stop offset="0.250" stop-color="#000095"/><stop offset="0.292" stop-color="#0000a4"/><stop offset="0.333" stop-color="#0000c2"/><stop offset="0.375" stop-color="#0000e1"/><stop offset="0.417" stop-color="#000cff"/><stop offset="0.458" stop-color="#0060ff"/><stop offset="0.500" stop-color="#0098ff"/><stop offset="0.542" stop-color="#00ebff"/><stop offset="0.583" stop-color="#0af775"/><stop offset="0.625" stop-color="#a1ff00"/><stop offset="0.667" stop-color="#ffe900"/><stop offset="0.708" stop-color="#ff7200"/><stop offset="0.750" stop-color="#f70000"/><stop offset="0.792" stop-color="#bf0000"/><stop offset="0.833" stop-color="#b30000"/><stop offset="0.875" stop-color="#b40000"/><stop offset="0.917" stop-color="#c80000"/><stop offset="0.958" stop-color="#de0000"/><stop offset="1.000" stop-color="#f50000"/></linearGradient><linearGradient id="g42" x1="0" y1="0" x2="0" y2="1"><stop offset="0.000" stop-color="#0000b5"/><stop offset="0.042" stop-color="#0000a8"/><stop offset="0.083" stop-color="#00009d"/><stop offset="0.125" stop-color="#000098"/><stop offset="0.167" stop-color="#000096"/><stop offset="0.208" stop-color="#000098"/><stop offset="0.250" stop-color="#00009f"/><stop offset="0.292" stop-color="#0000b3"/><stop offset="0.333" stop-color="#0000cf"/><stop offset="0.375" stop-color="#0000e8"/><stop offset="0.417" stop-color="#001aff"/><stop offset="0.458" stop-color="#0066ff"/><stop offset="0.500" stop-color="#009fff"/><stop offset="0.542" stop-color="#00f5ff"/><stop offset="0.583" stop-color="#0cf56d"/><stop offset="0.625" stop-color="#a3ff00"/><stop offset="0.667" stop-color="#ffe600"/><stop offset="0.708" stop-color="#ff7700"/><stop offset="0.750" stop-color="#fc0000"/><stop offset="0.792" stop-color="#c10000"/><stop offset="0.833" stop-color="#b30000"/><stop offset="0.875" stop-color="#b70000"/><stop offset="0.917" stop-color="#cb0000"/><stop offset="0.958" stop-color="#e10000"/><stop offset="1.000" stop-color="#f70000"/></linearGradient><linearGradient id="g43" x1="0" y1="0" x2="0" y2="1"><stop offset="0.000" stop-color="#0000bb"/><stop offset="0.042" stop-color="#0000b1"/><stop offset="0.083" stop-color="#0000a8"/><stop offset="0.125" stop-color="#0000a2"/><stop offset="0.167" stop-color="#0000a0"/><stop offset="0.208" stop-color="#0000a4"/><stop offset="0.250" stop-color="#0000b0"/><stop offset="0.292" stop-color="#0000c3"/><stop offset="0.333" stop-color="#0000dc"/><stop offset="0.375" stop-color="#0000f1"/><stop offset="0.417" stop-color="#0027ff"/><stop offset="0.458" stop-color="#006cff"/><stop offset="0.500" stop-color="#00a6ff"/><stop offset="0.542" stop-color="#00fdff"/><stop offset="0.583" stop-color="#0df468"/><stop offset="0.625" stop-color="#a3ff00"/><stop offset="0.667" stop-color="#ffe500"/><stop offset="0.708" stop-color="#ff7b00"/><stop offset="0.750" stop-color="#ff0300"/><stop offset="0.792" stop-color="#c50000"/><stop offset="0.833" stop-color="#b40000"/><stop offset="0.875" stop-color="#b90000"/><stop offset="0.917" stop-color="#ce0000"/><stop offset="0.958" stop-color="#e30000"/><stop offset="1.000" stop-color="#f70000"/></linearGradient><linearGradient id="g44" x1="0" y1="0" x2="0" y2="1"><stop offset="0.000" stop-color="#0000c2"/><stop offset="0.042" stop-color="#0000b9"/><stop offset="0.083" stop-color="#0000b4"/><stop offset="0.125" stop-color="#0000b0"/><stop offset="0.167" stop-color="#0000b0"/><stop offset="0.208" stop-color="#0000b5"/><stop offset="0.250" stop-color="#0000c0"/><stop offset="0.292" stop-color="#0000d2"/><stop offset="0.333" stop-color="#0000e3"/><stop offset="0.375" stop-color="#0000fa"/><stop offset="0.417" stop-color="#0031ff"/><stop offset="0.458" stop-color="#0071ff"/><stop offset="0.500" stop-color="#00acff"/><stop offset="0.542" stop-color="#00fff8"/><stop offset="0.583" stop-color="#0ef364"/><stop offset="0.625" stop-color="#a6ff00"/><stop offset="0.667" stop-color="#ffe800"/><stop offset="0.708" stop-color="#ff8000"/><stop offset="0.750" stop-color="#ff0e00"/><stop offset="0.792" stop-color="#cc0000"/><stop offset="0.833" stop-color="#b90000"/><stop offset="0.875" stop-color="#bb0000"/><stop offset="0.917" stop-color="#cf0000"/><stop offset="0.958" stop-color="#e40000"/><stop offset="1.000" stop-color="#f80000"/></linearGradient><linearGradient id="g45" x1="0" y1="0" x2="0" y2="1"><stop offset="0.000" stop-color="#0000c9"/><stop offset="0.042" stop-color="#0000c3"/><stop offset="0.083" stop-color="#0000bf"/><stop offset="0.125" stop-color="#0000bd"/><stop offset="0.167" stop-color="#0000bf"/><stop offset="0.208" stop-color="#0000c4"/><stop offset="0.250" stop-color="#0000d0"/><stop offset="0.292" stop-color="#0000dd"/><stop offset="0.333" stop-color="#0000e8"/><stop offset="0.375" stop-color="#0002ff"/><stop offset="0.417" stop-color="#0039ff"/><stop offset="0.458" stop-color="#0075ff"/><stop offset="0.500" stop-color="#00b0ff"/><stop offset="0.542" stop-color="#00fff1"/><stop offset="0.583" stop-color="#10f260"/><stop offset="0.625" stop-color="#a8ff00"/><stop offset="0.667" stop-color="#ffed00"/><stop offset="0.708" stop-color="#ff8a00"/><stop offset="0.750" stop-color="#ff1e00"/><stop offset="0.792" stop-color="#d60000"/><stop offset="0.833" stop-color="#bf0000"/><stop offset="0.875" stop-color="#be0000"/><stop offset="0.917" stop-color="#d00000"/><stop offset="0.958" stop-color="#e50000"/><stop offset="1.000" stop-color="#f80000"/></linearGradient><linearGradient id="g46" x1="0" y1="0" x2="0" y2="1"><stop offset="0.000" stop-color="#0000cf"/><stop offset="0.042" stop-color="#0000cc"/><stop offset="0.083" stop-color="#0000cb"/><stop offset="0.125" stop-color="#0000ca"/><stop offset="0.167" stop-color="#0000cd"/><stop offset="0.208" stop-color="#0000d2"/><stop offset="0.250" stop-color="#0000dc"/><stop offset="0.292" stop-color="#0000e3"/><stop offset="0.333" stop-color="#0000ed"/><stop offset="0.375" stop-color="#0008ff"/><stop offset="0.417" stop-color="#003fff"/><stop offset="0.458" stop-color="#0079ff"/><stop offset="0.500" stop-color="#00b4ff"/><stop offset="0.542" stop-color="#00ffec"/><stop offset="0.583" stop-color="#10f15c"/><stop offset="0.625" stop-color="#a6ff00"/><stop offset="0.667" stop-color="#fff400"/><stop offset="0.708" stop-color="#ff9800"/><stop offset="0.750" stop-color="#ff3400"/><stop offset="0.792" stop-color="#ea0000"/><stop offset="0.833" stop-color="#c80000"/><stop offset="0.875" stop-color="#c00000"/><stop offset="0.917" stop-color="#cf0000"/><stop offset="0.958" stop-color="#e60000"/><stop offset="1.000" stop-color="#f90000"/></linearGradient><linearGradient id="g47" x1="0" y1="0" x2="0" y2="1"><stop offset="0.000" stop-color="#0000d6"/><stop offset="0.042" stop-color="#0000d5"/><stop offset="0.083" stop-color="#0000d5"/><stop offset="0.125" stop-color="#0000d5"/><stop offset="0.167" stop-color="#0000d9"/><stop offset="0.208" stop-color="#0000dd"/><stop offset="0.250" stop-color="#0000e1"/><stop offset="0.292" stop-color="#0000e7"/><stop offset="0.333" stop-color="#0000f3"/><stop offset="0.375" stop-color="#000fff"/><stop offset="0.417" stop-color="#0045ff"/><stop offset="0.458" stop-color="#007cff"/><stop offset="0.500" stop-color="#00b8ff"/><stop offset="0.542" stop-color="#00ffe9"/><stop offset="0.583" stop-color="#10f15d"/><stop offset="0.625" stop-color="#a0ff00"/><stop offset="0.667" stop-color="#fffd00"/><stop offset="0.708" stop-color="#ffa600"/><stop offset="0.750" stop-color="#ff5200"/><stop offset="0.792" stop-color="#ff0000"/><stop offset="0.833" stop-color="#d20000"/><stop offset="0.875" stop-color="#c40000"/><stop offset="0.917" stop-color="#ce0000"/><stop offset="0.958" stop-color="#e60000"/><stop offset="1.000" stop-color="#fb0000"/></linearGradient><linearGradient id="g48" x1="0" y1="0" x2="0" y2="1"><stop offset="0.000" stop-color="#0000db"/><stop offset="0.042" stop-color="#0000dc"/><stop offset="0.083" stop-color="#0000dd"/><stop offset="0.125" stop-color="#0000dd"/><stop offset="0.167" stop-color="#0000e0"/><stop offset="0.208" stop-color="#0000e2"/><stop offset="0.250" stop-color="#0000e5"/><stop offset="0.292" stop-color="#0000e9"/><stop offset="0.333" stop-color="#0000f7"/><stop offset="0.375" stop-color="#0015ff"/><stop offset="0.417" stop-color="#004aff"/><stop offset="0.458" stop-color="#0080ff"/><stop offset="0.500" stop-color="#00bcff"/><stop offset="0.542" stop-color="#00ffe9"/><stop offset="0.583" stop-color="#0ef365"/><stop offset="0.625" stop-color="#95ff00"/><stop offset="0.667" stop-color="#f5ff00"/><stop offset="0.708" stop-color="#ffb300"/><stop offset="0.750" stop-color="#ff6700"/><stop offset="0.792" stop-color="#ff1b00"/><stop offset="0.833" stop-color="#e10000"/><stop offset="0.875" stop-color="#c80000"/><stop offset="0.917" stop-color="#cf0000"/><stop offset="0.958" stop-color="#e70000"/><stop offset="1.000" stop-color="#fe0000"/></linearGradient><linearGradient id="g49" x1="0" y1="0" x2="0" y2="1"><stop offset="0.000" stop-color="#0000df"/><stop offset="0.042" stop-color="#0000df"/><stop offset="0.083" stop-color="#0000e0"/><stop offset="0.125" stop-color="#0000e1"/><stop offset="0.167" stop-color="#0000e3"/><stop offset="0.208" stop-color="#0000e5"/><stop offset="0.250" stop-color="#0000e6"/><stop offset="0.292" stop-color="#0000ea"/><stop offset="0.333" stop-color="#0000fa"/><stop offset="0.375" stop-color="#001bff"/><stop offset="0.417" stop-color="#0051ff"/><stop offset="0.458" stop-color="#0086ff"/><stop offset="0.500" stop-color="#00c0ff"/><stop offset="0.542" stop-color="#00ffe9"/><stop offset="0.583" stop-color="#0af672"/><stop offset="0.625" stop-color="#84fe05"/><stop offset="0.667" stop-color="#e6ff00"/><stop offset="0.708" stop-color="#ffc100"/><stop offset="0.750" stop-color="#ff7500"/><stop offset="0.792" stop-color="#ff3200"/><stop offset="0.833" stop-color="#f50000"/><stop offset="0.875" stop-color="#d00000"/><stop offset="0.917" stop-color="#d20000"/><stop offset="0.958" stop-color="#eb0000"/><stop offset="1.000" stop-color="#ff0400"/></linearGradient><linearGradient id="g50" x1="0" y1="0" x2="0" y2="1"><stop offset="0.000" stop-color="#0000e1"/><stop offset="0.042" stop-color="#0000e1"/><stop offset="0.083" stop-color="#0000e2"/><stop offset="0.125" stop-color="#0000e4"/><stop offset="0.167" stop-color="#0000e6"/><stop offset="0.208" stop-color="#0000e6"/><stop offset="0.250" stop-color="#0000e7"/><stop offset="0.292" stop-color="#0000eb"/><stop offset="0.333" stop-color="#0000fc"/><stop offset="0.375" stop-color="#0021ff"/><stop offset="0.417" stop-color="#005aff"/><stop offset="0.458" stop-color="#008bff"/><stop offset="0.500" stop-color="#00c4ff"/><stop offset="0.542" stop-color="#00ffec"/><stop offset="0.583" stop-color="#07f97f"/><stop offset="0.625" stop-color="#6ffb13"/><stop offset="0.667" stop-color="#d7ff00"/><stop offset="0.708" stop-color="#ffd000"/><stop offset="0.750" stop-color="#ff8500"/><stop offset="0.792" stop-color="#ff5000"/><stop offset="0.833" stop-color="#ff0f00"/><stop offset="0.875" stop-color="#dd0000"/><stop offset="0.917" stop-color="#d80000"/><stop offset="0.958" stop-color="#f10000"/><stop offset="1.000" stop-color="#ff0b00"/></linearGradient><linearGradient id="g51" x1="0" y1="0" x2="0" y2="1"><stop offset="0.000" stop-color="#0000e3"/><stop offset="0.042" stop-color="#0000e3"/><stop offset="0.083" stop-color="#0000e4"/><stop offset="0.125" stop-color="#0000e6"/><stop offset="0.167" stop-color="#0000e7"/><stop offset="0.208" stop-color="#0000e7"/><stop offset="0.250" stop-color="#0000e7"/><stop offset="0.292" stop-color="#0000eb"/><stop offset="0.333" stop-color="#0000ff"/><stop offset="0.375" stop-color="#0029ff"/><stop offset="0.417" stop-color="#0061ff"/><stop offset="0.458" stop-color="#0091ff"/><stop offset="0.500" stop-color="#00c7ff"/><stop offset="0.542" stop-color="#00ffef"/><stop offset="0.583" stop-color="#04fb87"/><stop offset="0.625" stop-color="#59f822"/><stop offset="0.667" stop-color="#c8ff00"/><stop offset="0.708" stop-color="#ffdf00"/><stop offset="0.750" stop-color="#ff9a00"/><stop offset="0.792" stop-color="#ff6800"/><stop offset="0.833" stop-color="#ff2c00"/><stop offset="0.875" stop-color="#f70000"/><stop offset="0.917" stop-color="#e80000"/><stop offset="0.958" stop-color="#fa0000"/><stop offset="1.000" stop-color="#ff1500"/></linearGradient><linearGradient id="g52" x1="0" y1="0" x2="0" y2="1"><stop offset="0.000" stop-color="#0000e4"/><stop offset="0.042" stop-color="#0000e4"/><stop offset="0.083" stop-color="#0000e5"/><stop offset="0.125" stop-color="#0000e7"/><stop offset="0.167" stop-color="#0000e7"/><stop offset="0.208" stop-color="#0000e7"/><stop offset="0.250" stop-color="#0000e7"/><stop offset="0.292" stop-color="#0000eb"/><stop offset="0.333" stop-color="#0003ff"/><stop offset="0.375" stop-color="#0032ff"/><stop offset="0.417" stop-color="#006aff"/><stop offset="0.458" stop-color="#0098ff"/><stop offset="0.500" stop-color="#00caff"/><stop offset="0.542" stop-color="#00fff3"/><stop offset="0.583" stop-color="#02fd8f"/><stop offset="0.625" stop-color="#42f431"/><stop offset="0.667" stop-color="#b9ff00"/><stop offset="0.708" stop-color="#ffef00"/><stop offset="0.750" stop-color="#ffb000"/><stop offset="0.792" stop-color="#ff7c00"/><stop offset="0.833" stop-color="#ff5000"/><stop offset="0.875" stop-color="#ff1e00"/><stop offset="0.917" stop-color="#ff0c00"/><stop offset="0.958" stop-color="#ff0e00"/><stop offset="1.000" stop-color="#ff2200"/></linearGradient><linearGradient id="g53" x1="0" y1="0" x2="0" y2="1"><stop offset="0.000" stop-color="#0000e5"/><stop offset="0.042" stop-color="#0000e4"/><stop offset="0.083" stop-color="#0000e6"/><stop offset="0.125" stop-color="#0000e8"/><stop offset="0.167" stop-color="#0000e8"/><stop offset="0.208" stop-color="#0000e6"/><stop offset="0.250" stop-color="#0000e6"/><stop offset="0.292" stop-color="#0000ec"/><stop offset="0.333" stop-color="#0006ff"/><stop offset="0.375" stop-color="#003bff"/><stop offset="0.417" stop-color="#0072ff"/><stop offset="0.458" stop-color="#009dff"/><stop offset="0.500" stop-color="#00cdff"/><stop offset="0.542" stop-color="#00fff7"/><stop offset="0.583" stop-color="#00ff98"/><stop offset="0.625" stop-color="#2af141"/><stop offset="0.667" stop-color="#a9ff00"/><stop offset="0.708" stop-color="#feff00"/><stop offset="0.750" stop-color="#ffc500"/><stop offset="0.792" stop-color="#ff9300"/><stop offset="0.833" stop-color="#ff6b00"/><stop offset="0.875" stop-color="#ff4600"/><stop offset="0.917" stop-color="#ff3900"/><stop offset="0.958" stop-color="#ff2700"/><stop offset="1.000" stop-color="#ff3200"/></linearGradient><linearGradient id="g54" x1="0" y1="0" x2="0" y2="1"><stop offset="0.000" stop-color="#0000e6"/><stop offset="0.042" stop-color="#0000e6"/><stop offset="0.083" stop-color="#0000e7"/><stop offset="0.125" stop-color="#0000e8"/><stop offset="0.167" stop-color="#0000e7"/><stop offset="0.208" stop-color="#0000e6"/><stop offset="0.250" stop-color="#0000e7"/><stop offset="0.292" stop-color="#0000ef"/><stop offset="0.333" stop-color="#000aff"/><stop offset="0.375" stop-color="#0044ff"/><stop offset="0.417" stop-color="#0079ff"/><stop offset="0.458" stop-color="#00a2ff"/><stop offset="0.500" stop-color="#00cfff"/><stop offset="0.542" stop-color="#00fffc"/><stop offset="0.583" stop-color="#00ffa4"/><stop offset="0.625" stop-color="#14ee51"/><stop offset="0.667" stop-color="#98ff00"/><stop offset="0.708" stop-color="#e9ff00"/><stop offset="0.750" stop-color="#ffda00"/><stop offset="0.792" stop-color="#ffab00"/><stop offset="0.833" stop-color="#ff8200"/><stop offset="0.875" stop-color="#ff6800"/><stop offset="0.917" stop-color="#ff5e00"/><stop offset="0.958" stop-color="#ff4e00"/><stop offset="1.000" stop-color="#ff4c00"/></linearGradient><linearGradient id="g55" x1="0" y1="0" x2="0" y2="1"><stop offset="0.000" stop-color="#0000e6"/><stop offset="0.042" stop-color="#0000e7"/><stop offset="0.083" stop-color="#0000e8"/><stop offset="0.125" stop-color="#0000e8"/><stop offset="0.167" stop-color="#0000e7"/><stop offset="0.208" stop-color="#0000e6"/><stop offset="0.250" stop-color="#0000e8"/><stop offset="0.292" stop-color="#0000f1"/><stop offset="0.333" stop-color="#0010ff"/><stop offset="0.375" stop-color="#004cff"/><stop offset="0.417" stop-color="#007eff"/><stop offset="0.458" stop-color="#00a5ff"/><stop offset="0.500" stop-color="#00d0ff"/><stop offset="0.542" stop-color="#00fdff"/><stop offset="0.583" stop-color="#00ffb0"/><stop offset="0.625" stop-color="#0ff261"/><stop offset="0.667" stop-color="#85fe05"/><stop offset="0.708" stop-color="#d3ff00"/><stop offset="0.750" stop-color="#ffef00"/><stop offset="0.792" stop-color="#ffc400"/><stop offset="0.833" stop-color="#ff9e00"/><stop offset="0.875" stop-color="#ff8100"/><stop offset="0.917" stop-color="#ff7600"/><stop offset="0.958" stop-color="#ff7000"/><stop offset="1.000" stop-color="#ff6600"/></linearGradient><linearGradient id="g56" x1="0" y1="0" x2="0" y2="1"><stop offset="0.000" stop-color="#0000e8"/><stop offset="0.042" stop-color="#0000e8"/><stop offset="0.083" stop-color="#0000e9"/><stop offset="0.125" stop-color="#0000e9"/><stop offset="0.167" stop-color="#0000e7"/><stop offset="0.208" stop-color="#0000e7"/><stop offset="0.250" stop-color="#0000e9"/><stop offset="0.292" stop-color="#0000f5"/><stop offset="0.333" stop-color="#0017ff"/><stop offset="0.375" stop-color="#0054ff"/><stop offset="0.417" stop-color="#0081ff"/><stop offset="0.458" stop-color="#00a7ff"/><stop offset="0.500" stop-color="#00d0ff"/><stop offset="0.542" stop-color="#00faff"/><stop offset="0.583" stop-color="#00ffbc"/><stop offset="0.625" stop-color="#0af672"/><stop offset="0.667" stop-color="#6bfa16"/><stop offset="0.708" stop-color="#bdff00"/><stop offset="0.750" stop-color="#f9ff00"/><stop offset="0.792" stop-color="#ffdc00"/><stop offset="0.833" stop-color="#ffba00"/><stop offset="0.875" stop-color="#ff9f00"/><stop offset="0.917" stop-color="#ff8d00"/><stop offset="0.958" stop-color="#ff8c00"/><stop offset="1.000" stop-color="#ff8200"/></linearGradient><linearGradient id="g57" x1="0" y1="0" x2="0" y2="1"><stop offset="0.000" stop-color="#0000e9"/><stop offset="0.042" stop-color="#0000e9"/><stop offset="0.083" stop-color="#0000e9"/><stop offset="0.125" stop-color="#0000e9"/><stop offset="0.167" stop-color="#0000e8"/><stop offset="0.208" stop-color="#0000e8"/><stop offset="0.250" stop-color="#0000ea"/><stop offset="0.292" stop-color="#0000f9"/><stop offset="0.333" stop-color="#001fff"/><stop offset="0.375" stop-color="#005aff"/><stop offset="0.417" stop-color="#0084ff"/><stop offset="0.458" stop-color="#00a9ff"/><stop offset="0.500" stop-color="#00d0ff"/><stop offset="0.542" stop-color="#00f7ff"/><stop offset="0.583" stop-color="#00ffc7"/><stop offset="0.625" stop-color="#06fa82"/><stop offset="0.667" stop-color="#47f52e"/><stop offset="0.708" stop-color="#a5ff00"/><stop offset="0.750" stop-color="#deff00"/><stop offset="0.792" stop-color="#fff500"/><stop offset="0.833" stop-color="#ffd500"/><stop offset="0.875" stop-color="#ffbb00"/><stop offset="0.917" stop-color="#ffab00"/><stop offset="0.958" stop-color="#ffaa00"/><stop offset="1.000" stop-color="#ffa700"/></linearGradient><linearGradient id="g58" x1="0" y1="0" x2="0" y2="1"><stop offset="0.000" stop-color="#0000ea"/><stop offset="0.042" stop-color="#0000ea"/><stop offset="0.083" stop-color="#0000ea"/><stop offset="0.125" stop-color="#0000e9"/><stop offset="0.167" stop-color="#0000e8"/><stop offset="0.208" stop-color="#0000e9"/><stop offset="0.250" stop-color="#0000ee"/><stop offset="0.292" stop-color="#0000fe"/><stop offset="0.333" stop-color="#0029ff"/><stop offset="0.375" stop-color="#005fff"/><stop offset="0.417" stop-color="#0087ff"/><stop offset="0.458" stop-color="#00aaff"/><stop offset="0.500" stop-color="#00cfff"/><stop offset="0.542" stop-color="#00f4ff"/><stop offset="0.583" stop-color="#00ffd2"/><stop offset="0.625" stop-color="#02fd8e"/><stop offset="0.667" stop-color="#1eef49"/><stop offset="0.708" stop-color="#8bff01"/><stop offset="0.750" stop-color="#c3ff00"/><stop offset="0.792" stop-color="#edff00"/><stop offset="0.833" stop-color="#fff000"/><stop offset="0.875" stop-color="#ffd700"/><stop offset="0.917" stop-color="#ffc700"/><stop offset="0.958" stop-color="#ffc600"/><stop offset="1.000" stop-color="#ffca00"/></linearGradient><linearGradient id="g59" x1="0" y1="0" x2="0" y2="1"><stop offset="0.000" stop-color="#0000eb"/><stop offset="0.042" stop-color="#0000eb"/><stop offset="0.083" stop-color="#0000eb"/><stop offset="0.125" stop-color="#0000ea"/><stop offset="0.167" stop-color="#0000e9"/><stop offset="0.208" stop-color="#0000eb"/><stop offset="0.250" stop-color="#0000f3"/><stop offset="0.292" stop-color="#0007ff"/><stop offset="0.333" stop-color="#0035ff"/><stop offset="0.375" stop-color="#0065ff"/><stop offset="0.417" stop-color="#008bff"/><stop offset="0.458" stop-color="#00abff"/><stop offset="0.500" stop-color="#00cfff"/><stop offset="0.542" stop-color="#00f1ff"/><stop offset="0.583" stop-color="#00ffdd"/><stop offset="0.625" stop-color="#00ff9e"/><stop offset="0.667" stop-color="#0ef364"/><stop offset="0.708" stop-color="#62f91c"/><stop offset="0.750" stop-color="#a5ff00"/><stop offset="0.792" stop-color="#ceff00"/><stop offset="0.833" stop-color="#f0ff00"/><stop offset="0.875" stop-color="#fff400"/><stop offset="0.917" stop-color="#ffe200"/><stop offset="0.958" stop-color="#ffde00"/><stop offset="1.000" stop-color="#ffe900"/></linearGradient><linearGradient id="g60" x1="0" y1="0" x2="0" y2="1"><stop offset="0.000" stop-color="#0000ec"/><stop offset="0.042" stop-color="#0000ec"/><stop offset="0.083" stop-color="#0000eb"/><stop offset="0.125" stop-color="#0000ea"/><stop offset="0.167" stop-color="#0000eb"/><stop offset="0.208" stop-color="#0000ef"/><stop offset="0.250" stop-color="#0000fb"/><stop offset="0.292" stop-color="#0014ff"/><stop offset="0.333" stop-color="#0042ff"/><stop offset="0.375" stop-color="#006cff"/><stop offset="0.417" stop-color="#008fff"/><stop offset="0.458" stop-color="#00adff"/><stop offset="0.500" stop-color="#00ceff"/><stop offset="0.542" stop-color="#00eeff"/><stop offset="0.583" stop-color="#00ffe8"/><stop offset="0.625" stop-color="#00ffb0"/><stop offset="0.667" stop-color="#07f97f"/><stop offset="0.708" stop-color="#2cf140"/><stop offset="0.750" stop-color="#82fe06"/><stop offset="0.792" stop-color="#aeff00"/><stop offset="0.833" stop-color="#ceff00"/><stop offset="0.875" stop-color="#e8ff00"/><stop offset="0.917" stop-color="#feff00"/><stop offset="0.958" stop-color="#fff500"/><stop offset="1.000" stop-color="#fffc00"/></linearGradient><linearGradient id="g61" x1="0" y1="0" x2="0" y2="1"><stop offset="0.000" stop-color="#0000ed"/><stop offset="0.042" stop-color="#0000ed"/><stop offset="0.083" stop-color="#0000ec"/><stop offset="0.125" stop-color="#0000ec"/><stop offset="0.167" stop-color="#0000ef"/><stop offset="0.208" stop-color="#0000f6"/><stop offset="0.250" stop-color="#0005ff"/><stop offset="0.292" stop-color="#0023ff"/><stop offset="0.333" stop-color="#0050ff"/><stop offset="0.375" stop-color="#0073ff"/><stop offset="0.417" stop-color="#0093ff"/><stop offset="0.458" stop-color="#00afff"/><stop offset="0.500" stop-color="#00ceff"/><stop offset="0.542" stop-color="#00eaff"/><stop offset="0.583" stop-color="#00fff4"/><stop offset="0.625" stop-color="#00ffc3"/><stop offset="0.667" stop-color="#01fe92"/><stop offset="0.708" stop-color="#0ef364"/><stop offset="0.750" stop-color="#4af62c"/><stop offset="0.792" stop-color="#8bff01"/><stop offset="0.833" stop-color="#acff00"/><stop offset="0.875" stop-color="#c5ff00"/><stop offset="0.917" stop-color="#d9ff00"/><stop offset="0.958" stop-color="#e9ff00"/><stop offset="1.000" stop-color="#edff00"/></linearGradient><linearGradient id="g62" x1="0" y1="0" x2="0" y2="1"><stop offset="0.000" stop-color="#0000ef"/><stop offset="0.042" stop-color="#0000ee"/><stop offset="0.083" stop-color="#0000ee"/><stop offset="0.125" stop-color="#0000f0"/><stop offset="0.167" stop-color="#0000f5"/><stop offset="0.208" stop-color="#0000fe"/><stop offset="0.250" stop-color="#0012ff"/><stop offset="0.292" stop-color="#0034ff"/><stop offset="0.333" stop-color="#005cff"/><stop offset="0.375" stop-color="#007cff"/><stop offset="0.417" stop-color="#0098ff"/><stop offset="0.458" stop-color="#00b1ff"/><stop offset="0.500" stop-color="#00ceff"/><stop offset="0.542" stop-color="#00e7ff"/><stop offset="0.583" stop-color="#00ffff"/><stop offset="0.625" stop-color="#00ffd6"/><stop offset="0.667" stop-color="#00ffab"/><stop offset="0.708" stop-color="#05fb84"/><stop offset="0.750" stop-color="#12f057"/><stop offset="0.792" stop-color="#54f725"/><stop offset="0.833" stop-color="#89ff02"/><stop offset="0.875" stop-color="#a2ff00"/><stop offset="0.917" stop-color="#b4ff00"/><stop offset="0.958" stop-color="#c3ff00"/><stop offset="1.000" stop-color="#cdff00"/></linearGradient><linearGradient id="g63" x1="0" y1="0" x2="0" y2="1"><stop offset="0.000" stop-color="#0000f0"/><stop offset="0.042" stop-color="#0000f1"/><stop offset="0.083" stop-color="#0000f2"/><stop offset="0.125" stop-color="#0000f6"/><stop offset="0.167" stop-color="#0000fe"/><stop offset="0.208" stop-color="#000bff"/><stop offset="0.250" stop-color="#0025ff"/><stop offset="0.292" stop-color="#0047ff"/><stop offset="0.333" stop-color="#0068ff"/><stop offset="0.375" stop-color="#0084ff"/><stop offset="0.417" stop-color="#009dff"/><stop offset="0.458" stop-color="#00b4ff"/><stop offset="0.500" stop-color="#00ceff"/><stop offset="0.542" stop-color="#00e4ff"/><stop offset="0.583" stop-color="#00f9ff"/><stop offset="0.625" stop-color="#00ffe8"/><stop offset="0.667" stop-color="#00ffc4"/><stop offset="0.708" stop-color="#00ff9f"/><stop offset="0.750" stop-color="#07f97f"/><stop offset="0.792" stop-color="#13ef53"/><stop offset="0.833" stop-color="#50f728"/><stop offset="0.875" stop-color="#7efd09"/><stop offset="0.917" stop-color="#92ff00"/><stop offset="0.958" stop-color="#9fff00"/><stop offset="1.000" stop-color="#a9ff00"/></linearGradient><linearGradient id="g64" x1="0" y1="0" x2="0" y2="1"><stop offset="0.000" stop-color="#0000f4"/><stop offset="0.042" stop-color="#0000f6"/><stop offset="0.083" stop-color="#0000f9"/><stop offset="0.125" stop-color="#0001ff"/><stop offset="0.167" stop-color="#000bff"/><stop offset="0.208" stop-color="#001fff"/><stop offset="0.250" stop-color="#0039ff"/><stop offset="0.292" stop-color="#005aff"/><stop offset="0.333" stop-color="#0074ff"/><stop offset="0.375" stop-color="#008dff"/><stop offset="0.417" stop-color="#00a3ff"/><stop offset="0.458" stop-color="#00b7ff"/><stop offset="0.500" stop-color="#00ceff"/><stop offset="0.542" stop-color="#00e1ff"/><stop offset="0.583" stop-color="#00f3ff"/><stop offset="0.625" stop-color="#00fff8"/><stop offset="0.667" stop-color="#00ffdc"/><stop offset="0.708" stop-color="#00ffbe"/><stop offset="0.750" stop-color="#00ff9d"/><stop offset="0.792" stop-color="#06fa80"/><stop offset="0.833" stop-color="#11f059"/><stop offset="0.875" stop-color="#40f433"/><stop offset="0.917" stop-color="#6afa17"/><stop offset="0.958" stop-color="#7ffd09"/><stop offset="1.000" stop-color="#8aff01"/></linearGradient><linearGradient id="g65" x1="0" y1="0" x2="0" y2="1"><stop offset="0.000" stop-color="#0000fa"/><stop offset="0.042" stop-color="#0000fe"/><stop offset="0.083" stop-color="#0006ff"/><stop offset="0.125" stop-color="#0011ff"/><stop offset="0.167" stop-color="#0022ff"/><stop offset="0.208" stop-color="#0038ff"/><stop offset="0.250" stop-color="#0053ff"/><stop offset="0.292" stop-color="#006aff"/><stop offset="0.333" stop-color="#0081ff"/><stop offset="0.375" stop-color="#0096ff"/><stop offset="0.417" stop-color="#00a8ff"/><stop offset="0.458" stop-color="#00bbff"/><stop offset="0.500" stop-color="#00ceff"/><stop offset="0.542" stop-color="#00dfff"/><stop offset="0.583" stop-color="#00edff"/><stop offset="0.625" stop-color="#00faff"/><stop offset="0.667" stop-color="#00fff1"/><stop offset="0.708" stop-color="#00ffdb"/><stop offset="0.750" stop-color="#00ffc2"/><stop offset="0.792" stop-color="#00ffa4"/><stop offset="0.833" stop-color="#04fc88"/><stop offset="0.875" stop-color="#0df469"/><stop offset="0.917" stop-color="#20f048"/><stop offset="0.958" stop-color="#49f62d"/><stop offset="1.000" stop-color="#62f91c"/></linearGradient><linearGradient id="g66" x1="0" y1="0" x2="0" y2="1"><stop offset="0.000" stop-color="#0008ff"/><stop offset="0.042" stop-color="#0011ff"/><stop offset="0.083" stop-color="#001eff"/><stop offset="0.125" stop-color="#002eff"/><stop offset="0.167" stop-color="#0042ff"/><stop offset="0.208" stop-color="#0058ff"/><stop offset="0.250" stop-color="#006aff"/><stop offset="0.292" stop-color="#007cff"/><stop offset="0.333" stop-color="#008eff"/><stop offset="0.375" stop-color="#009fff"/><stop offset="0.417" stop-color="#00aeff"/><stop offset="0.458" stop-color="#00bfff"/><stop offset="0.500" stop-color="#00cfff"/><stop offset="0.542" stop-color="#00dcff"/><stop offset="0.583" stop-color="#00e8ff"/><stop offset="0.625" stop-color="#00f2ff"/><stop offset="0.667" stop-color="#00fcff"/><stop offset="0.708" stop-color="#00fff3"/><stop offset="0.750" stop-color="#00ffe1"/><stop offset="0.792" stop-color="#00ffce"/><stop offset="0.833" stop-color="#00ffb6"/><stop offset="0.875" stop-color="#00ff9a"/><stop offset="0.917" stop-color="#05fb84"/><stop offset="0.958" stop-color="#0cf46a"/><stop offset="1.000" stop-color="#14ee52"/></linearGradient><linearGradient id="g67" x1="0" y1="0" x2="0" y2="1"><stop offset="0.000" stop-color="#002dff"/><stop offset="0.042" stop-color="#003aff"/><stop offset="0.083" stop-color="#004aff"/><stop offset="0.125" stop-color="#005aff"/><stop offset="0.167" stop-color="#0067ff"/><stop offset="0.208" stop-color="#0075ff"/><stop offset="0.250" stop-color="#0083ff"/><stop offset="0.292" stop-color="#0090ff"/><stop offset="0.333" stop-color="#009dff"/><stop offset="0.375" stop-color="#00aaff"/><stop offset="0.417" stop-color="#00b6ff"/><stop offset="0.458" stop-color="#00c3ff"/><stop offset="0.500" stop-color="#00cfff"/><stop offset="0.542" stop-color="#00d9ff"/><stop offset="0.583" stop-color="#00e2ff"/><stop offset="0.625" stop-color="#00eaff"/><stop offset="0.667" stop-color="#00f2ff"/><stop offset="0.708" stop-color="#00f9ff"/><stop offset="0.750" stop-color="#00fffd"/><stop offset="0.792" stop-color="#00fff0"/><stop offset="0.833" stop-color="#00ffe3"/><stop offset="0.875" stop-color="#00ffd3"/><stop offset="0.917" stop-color="#00ffc1"/><stop offset="0.958" stop-color="#00ffac"/><stop offset="1.000" stop-color="#00ff97"/></linearGradient><linearGradient id="g68" x1="0" y1="0" x2="0" y2="1"><stop offset="0.000" stop-color="#0072ff"/><stop offset="0.042" stop-color="#007aff"/><stop offset="0.083" stop-color="#0082ff"/><stop offset="0.125" stop-color="#008aff"/><stop offset="0.167" stop-color="#0092ff"/><stop offset="0.208" stop-color="#009aff"/><stop offset="0.250" stop-color="#00a2ff"/><stop offset="0.292" stop-color="#00a9ff"/><stop offset="0.333" stop-color="#00b0ff"/><stop offset="0.375" stop-color="#00b9ff"/><stop offset="0.417" stop-color="#00c1ff"/><stop offset="0.458" stop-color="#00c8ff"/><stop offset="0.500" stop-color="#00cfff"/><stop offset="0.542" stop-color="#00d5ff"/><stop offset="0.583" stop-color="#00daff"/><stop offset="0.625" stop-color="#00e0ff"/><stop offset="0.667" stop-color="#00e4ff"/><stop offset="0.708" stop-color="#00e9ff"/><stop offset="0.750" stop-color="#00edff"/><stop offset="0.792" stop-color="#00f2ff"/><stop offset="0.833" stop-color="#00f6ff"/><stop offset="0.875" stop-color="#00faff"/><stop offset="0.917" stop-color="#00feff"/><stop offset="0.958" stop-color="#00fff8"/><stop offset="1.000" stop-color="#00fff0"/></linearGradient><clipPath id="tclip"><ellipse cx="0" cy="0" rx="172.5" ry="161.4"/></clipPath>
<linearGradient id="cb" x1="0" y1="0" x2="0" y2="1"><stop offset="0.0000" stop-color="#800000"/><stop offset="0.1250" stop-color="#ff0000"/><stop offset="0.2500" stop-color="#ff8000"/><stop offset="0.3750" stop-color="#ffff00"/><stop offset="0.4400" stop-color="#8cff00"/><stop offset="0.5000" stop-color="#14ee50"/><stop offset="0.5600" stop-color="#00ff96"/><stop offset="0.6250" stop-color="#00ffff"/><stop offset="0.7500" stop-color="#0080ff"/><stop offset="0.8750" stop-color="#0000ff"/><stop offset="1.0000" stop-color="#000083"/></linearGradient>
<g id="topo"><path d="M-27.1,-147.5 L-5.6,-168.4 Q0,-171.4 5.6,-168.4 L27.1,-147.5" fill="none" stroke="#999" stroke-width="1.6"/><path d="M-158.7,-33 Q-175.5,-40 -176.5,-10 L-177.5,25 Q-175.5,48 -158.7,40" fill="none" stroke="#aaa" stroke-width="1.6"/><path d="M158.7,-33 Q175.5,-40 176.5,-10 L177.5,25 Q175.5,48 158.7,40" fill="none" stroke="#aaa" stroke-width="1.6"/><g clip-path="url(#tclip)" filter="url(#tb)"><rect x="-172.5" y="-32.2" width="5.6" height="64.4" fill="url(#g0)"/><rect x="-167.5" y="-51.9" width="5.6" height="103.8" fill="url(#g1)"/><rect x="-162.5" y="-65.2" width="5.6" height="130.3" fill="url(#g2)"/><rect x="-157.5" y="-75.7" width="5.6" height="151.4" fill="url(#g3)"/><rect x="-152.5" y="-84.5" width="5.6" height="169.1" fill="url(#g4)"/><rect x="-147.5" y="-92.3" width="5.6" height="184.5" fill="url(#g5)"/><rect x="-142.5" y="-99.1" width="5.6" height="198.3" fill="url(#g6)"/><rect x="-137.5" y="-105.3" width="5.6" height="210.6" fill="url(#g7)"/><rect x="-132.5" y="-110.9" width="5.6" height="221.9" fill="url(#g8)"/><rect x="-127.5" y="-116.1" width="5.6" height="232.1" fill="url(#g9)"/><rect x="-122.5" y="-120.8" width="5.6" height="241.6" fill="url(#g10)"/><rect x="-117.5" y="-125.1" width="5.6" height="250.3" fill="url(#g11)"/><rect x="-112.5" y="-129.2" width="5.6" height="258.3" fill="url(#g12)"/><rect x="-107.5" y="-132.9" width="5.6" height="265.8" fill="url(#g13)"/><rect x="-102.5" y="-136.4" width="5.6" height="272.7" fill="url(#g14)"/><rect x="-97.5" y="-139.6" width="5.6" height="279.1" fill="url(#g15)"/><rect x="-92.5" y="-142.5" width="5.6" height="285.1" fill="url(#g16)"/><rect x="-87.5" y="-145.3" width="5.6" height="290.6" fill="url(#g17)"/><rect x="-82.5" y="-147.8" width="5.6" height="295.7" fill="url(#g18)"/><rect x="-77.5" y="-150.2" width="5.6" height="300.4" fill="url(#g19)"/><rect x="-72.5" y="-152.4" width="5.6" height="304.7" fill="url(#g20)"/><rect x="-67.5" y="-154.3" width="5.6" height="308.7" fill="url(#g21)"/><rect x="-62.5" y="-156.2" width="5.6" height="312.3" fill="url(#g22)"/><rect x="-57.5" y="-157.8" width="5.6" height="315.6" fill="url(#g23)"/><rect x="-52.5" y="-159.3" width="5.6" height="318.6" fill="url(#g24)"/><rect x="-47.5" y="-160.7" width="5.6" height="321.3" fill="url(#g25)"/><rect x="-42.5" y="-161.4" width="5.6" height="322.8" fill="url(#g26)"/><rect x="-37.5" y="-161.4" width="5.6" height="322.8" fill="url(#g27)"/><rect x="-32.5" y="-161.4" width="5.6" height="322.8" fill="url(#g28)"/><rect x="-27.5" y="-161.4" width="5.6" height="322.8" fill="url(#g29)"/><rect x="-22.5" y="-161.4" width="5.6" height="322.8" fill="url(#g30)"/><rect x="-17.5" y="-161.4" width="5.6" height="322.8" fill="url(#g31)"/><rect x="-12.5" y="-161.4" width="5.6" height="322.8" fill="url(#g32)"/><rect x="-7.5" y="-161.4" width="5.6" height="322.8" fill="url(#g33)"/><rect x="-2.5" y="-161.4" width="5.6" height="322.8" fill="url(#g34)"/><rect x="2.5" y="-161.4" width="5.6" height="322.8" fill="url(#g35)"/><rect x="7.5" y="-161.4" width="5.6" height="322.8" fill="url(#g36)"/><rect x="12.5" y="-161.4" width="5.6" height="322.8" fill="url(#g37)"/><rect x="17.5" y="-161.4" width="5.6" height="322.8" fill="url(#g38)"/><rect x="22.5" y="-161.4" width="5.6" height="322.8" fill="url(#g39)"/><rect x="27.5" y="-161.4" width="5.6" height="322.8" fill="url(#g40)"/><rect x="32.5" y="-161.4" width="5.6" height="322.8" fill="url(#g41)"/><rect x="37.5" y="-161.4" width="5.6" height="322.8" fill="url(#g42)"/><rect x="42.5" y="-160.7" width="5.6" height="321.3" fill="url(#g43)"/><rect x="47.5" y="-159.3" width="5.6" height="318.6" fill="url(#g44)"/><rect x="52.5" y="-157.8" width="5.6" height="315.6" fill="url(#g45)"/><rect x="57.5" y="-156.2" width="5.6" height="312.3" fill="url(#g46)"/><rect x="62.5" y="-154.3" width="5.6" height="308.7" fill="url(#g47)"/><rect x="67.5" y="-152.4" width="5.6" height="304.7" fill="url(#g48)"/><rect x="72.5" y="-150.2" width="5.6" height="300.4" fill="url(#g49)"/><rect x="77.5" y="-147.8" width="5.6" height="295.7" fill="url(#g50)"/><rect x="82.5" y="-145.3" width="5.6" height="290.6" fill="url(#g51)"/><rect x="87.5" y="-142.5" width="5.6" height="285.1" fill="url(#g52)"/><rect x="92.5" y="-139.6" width="5.6" height="279.1" fill="url(#g53)"/><rect x="97.5" y="-136.4" width="5.6" height="272.7" fill="url(#g54)"/><rect x="102.5" y="-132.9" width="5.6" height="265.8" fill="url(#g55)"/><rect x="107.5" y="-129.2" width="5.6" height="258.3" fill="url(#g56)"/><rect x="112.5" y="-125.1" width="5.6" height="250.3" fill="url(#g57)"/><rect x="117.5" y="-120.8" width="5.6" height="241.6" fill="url(#g58)"/><rect x="122.5" y="-116.1" width="5.6" height="232.1" fill="url(#g59)"/><rect x="127.5" y="-110.9" width="5.6" height="221.9" fill="url(#g60)"/><rect x="132.5" y="-105.3" width="5.6" height="210.6" fill="url(#g61)"/><rect x="137.5" y="-99.1" width="5.6" height="198.3" fill="url(#g62)"/><rect x="142.5" y="-92.3" width="5.6" height="184.5" fill="url(#g63)"/><rect x="147.5" y="-84.5" width="5.6" height="169.1" fill="url(#g64)"/><rect x="152.5" y="-75.7" width="5.6" height="151.4" fill="url(#g65)"/><rect x="157.5" y="-65.2" width="5.6" height="130.3" fill="url(#g66)"/><rect x="162.5" y="-51.9" width="5.6" height="103.8" fill="url(#g67)"/><rect x="167.5" y="-32.2" width="5.6" height="64.4" fill="url(#g68)"/></g><g clip-path="url(#tclip)" fill="none" stroke="#000" stroke-opacity=".34" stroke-width="1"><path d="M-80.4,-161.4 -80.9,-157.4 -81.1,-153.3 -81.2,-149.3 -81.2,-145.3 -81.1,-141.2 -80.8,-137.2 -80.3,-133.2 -79.8,-129.1 -79.8,-127.1 -79.8,-123.1 -79.6,-119 -79.2,-115 -78.6,-111 -77.8,-106.9 -77.4,-104.9 -76.5,-100.9 -75.9,-96.8 -75.5,-93.6 -75,-90.8 -74.1,-86.8 -73.3,-84.4 -71.9,-80.7 -71,-78.7 -69,-75 -67.8,-72.6 -66.8,-70.6 -64.9,-66.6 -63.8,-64.6 -62.5,-62.5 -60.4,-59.4 -58.2,-56.6 -56.3,-54.5 -54.4,-52.5 -52.5,-50.4 -50.5,-48.4 -48.7,-46.4 -46.8,-44.4 -45,-42.4 -42.9,-40.4 -40.8,-38.3 -38.4,-36.3 -35.7,-34.3 -32.8,-32.3 -30.2,-30.7 -28,-29.6 -24.8,-28.2 -21.6,-27.5 -17.2,-26.8 -12.9,-26.4 -10.8,-26.2 -6.5,-25.9 -2.2,-25.7 2.2,-25.8 6.5,-26.2 8.6,-26.6 12.9,-27.7 15.1,-28.6 18,-30.3 21.1,-32.3 23.7,-34.1 25.9,-35.8 28,-37.4 30.2,-39.2 32.3,-41.1 34.5,-43 36.7,-45.1 38.8,-47.2 41,-49.4 43.1,-51.4 45.3,-53.6 47.4,-56 49.5,-58.5 51,-60.5 52.3,-62.5 53.9,-65.3 55.6,-68.6 56.5,-70.6 58.2,-74.1 59.6,-76.7 60.6,-78.7 62.4,-82.7 63.1,-84.7 64.2,-88.8 64.7,-91 65.3,-94.8 65.8,-98.9 66.6,-102.9 67,-104.9 68,-108.9 68.7,-113 69,-115.7 69.3,-119 69.5,-123.1 69.5,-127.1 69.7,-131.1 70.2,-135.2 70.6,-139.2 70.9,-143.2 70.9,-147.3 70.8,-151.3 70.6,-155.3 70.1,-159.4 M-172.5,-43.2 -170.1,-42.4 -166,-41.2 -162.9,-40.4 -159.6,-39.7 -155.2,-39 -151.7,-38.3 -148.8,-37.8 -144.5,-37.1 -140.2,-36.5 -138,-36.2 -133.7,-35.7 -129.4,-35.4 -125.1,-35.1 -120.7,-34.8 -116.4,-34.5 -113.8,-34.3 -110,-33.8 -105.7,-33.1 -102,-32.3 -99.2,-31.6 -94.9,-30.3 -92.7,-29.7 -88.4,-28.4 -86.2,-27.8 -81.9,-27.1 -77.6,-26.6 -74.9,-26.2 -71.2,-25.7 -66.8,-24.9 -64,-24.2 -60.4,-23.3 -56.8,-22.2 -53.9,-21.3 -50.6,-20.2 -47.4,-19.1 -44.6,-18.2 -41,-16.9 -38.5,-16.1 -34.5,-15 -30.9,-14.1 -28,-13.5 -23.7,-12.8 -20.5,-12.1 -17.2,-10.9 -15.1,-10 -10.8,-8.1 -8.6,-7.3 -4.9,-6.1 -2.2,-5.4 2.2,-5.3 6.3,-6.1 8.6,-6.7 12,-8.1 15.1,-9.5 17.3,-10.6 20.1,-12.1 23.7,-13.7 25.9,-14.6 29.5,-16.1 32.3,-17.3 34.5,-18.2 38.8,-19.7 41,-20.4 45.3,-21.7 47.4,-22.3 51.8,-23.3 55.9,-24.2 58.2,-24.7 62.5,-25.4 66.8,-26.1 69,-26.4 73.3,-27.2 77.6,-28.2 79.8,-28.9 84,-30.3 86.2,-31 90.6,-32.2 92.7,-32.7 97,-33.6 101.3,-34.2 103.5,-34.4 107.8,-34.8 112.1,-35 116.4,-35.2 120.8,-35.5 125.1,-35.9 128.9,-36.3 131.5,-36.7 135.8,-37.3 140.2,-38.1 142.3,-38.4 146.6,-39.2 150.9,-40 153.1,-40.5 157.4,-41.8 159.6,-42.6 163.9,-44.2 166,-45.1 169.1,-46.4 172.5,-47.9 M-172.5,-25.2 -168.2,-24.9 -163.9,-24.5 -160.1,-24.2 -157.4,-23.9 -153.1,-23.4 -148.8,-22.9 -144.5,-22.4 -142.2,-22.2 -138,-21.9 -133.7,-21.6 -129.4,-21.5 -125.1,-21.4 -120.7,-21.3 -116.4,-21.1 -112.1,-20.7 -109.7,-20.2 -105.7,-19.1 -102.3,-18.2 -99.2,-17.3 -95.1,-16.1 -92.7,-15.5 -88.4,-14.6 -85.8,-14.1 -81.9,-13.5 -77.6,-12.9 -73.3,-12.4 -71.2,-12.1 -66.8,-11.5 -62.5,-10.8 -58.5,-10.1 -56.1,-9.6 -51.7,-8.7 -49.3,-8.1 -45.3,-7.1 -41.3,-6.1 -38.8,-5.4 -34.5,-4.2 -32.3,-3.6 -28,-2.4 -25.9,-1.8 -21.6,-0.2 -19.4,0.6 -15.9,2 -12.9,3.2 -10.8,4 -6.5,5.4 -3.1,6.1 0,6.4 4.3,6.1 6.5,5.7 10.8,4.5 12.9,3.8 17.3,2.2 19.4,1.3 22.5,0 25.9,-1.4 28,-2.2 32.3,-3.9 34.5,-4.7 38.3,-6.1 41,-6.9 45.3,-8.1 47.4,-8.6 51.8,-9.4 55.9,-10.1 58.2,-10.4 62.5,-11 66.8,-11.6 69.6,-12.1 73.3,-12.8 77.6,-13.8 79.8,-14.4 84.1,-15.5 86.2,-16.2 90.6,-17.5 92.7,-18.2 97,-19.5 99.6,-20.2 103.5,-20.8 107.8,-21.1 112.1,-21.2 116.4,-21.3 120.8,-21.3 125.1,-21.5 129.4,-21.7 133.7,-22.1 135.8,-22.3 140.2,-22.9 144.5,-23.5 148.8,-24.1 150.9,-24.3 155.3,-24.7 159.6,-25.2 163.9,-25.8 167,-26.2 170.3,-26.7 M-172.5,-4.5 -168.2,-4.7 -163.9,-4.6 -159.6,-4.4 -155.2,-4.1 -153.1,-4 -148.8,-3.8 -144.5,-3.7 -140.2,-3.6 -135.8,-3.6 -131.5,-3.6 -127.2,-3.6 -122.9,-3.6 -118.6,-3.5 -114.3,-3.3 -110,-2.9 -105.7,-2.4 -102.8,-2 -99.2,-1.5 -94.9,-1 -90.6,-0.6 -86.2,-0.2 -84.1,0 -79.8,0.3 -75.5,0.7 -71.2,1.1 -66.8,1.5 -62.5,2 -60.4,2.3 -56.1,2.9 -51.7,3.7 -49.6,4.1 -45.3,5.1 -41.8,6.1 -38.8,6.9 -35.1,8.1 -32.3,9 -28.6,10.1 -25.9,10.9 -22.1,12.1 -19.4,13 -16.5,14.1 -12.9,15.4 -10.8,16.2 -6.5,17.5 -2.9,18.2 0,18.4 3.4,18.2 6.5,17.6 10.8,16.4 12.9,15.7 17.2,14.1 19.4,13.3 22.8,12.1 25.9,11.1 29,10.1 32.3,9 35.2,8.1 38.8,6.9 41.6,6.1 45.3,5.1 49.6,4.1 51.8,3.6 56.1,2.9 60.4,2.3 62.5,2 66.8,1.5 71.2,1 75.5,0.5 79.4,0 81.9,-0.3 86.2,-0.9 90.6,-1.5 94.6,-2 97,-2.3 101.3,-2.7 105.7,-3 110,-3.2 114.3,-3.2 118.6,-3.2 122.9,-3.1 127.2,-3 131.5,-3 135.8,-3 140.2,-3.1 144.5,-3.2 148.8,-3.4 153.1,-3.6 157.4,-3.9 159.8,-4 163.9,-4.3 168.2,-4.5 172.5,-4.5 M-172.5,47.8 -170.1,46.4 -166.5,44.4 -163.9,43 -161.7,41.7 -159.4,40.4 -156.6,38.3 -154,36.3 -151.3,34.3 -148.8,32.5 -146.6,31.1 -144.5,29.8 -141.5,28.2 -138,26.7 -135.8,25.8 -131.5,24.3 -129.4,23.7 -125.1,22.7 -122.4,22.2 -118.6,21.6 -114.3,21 -110,20.3 -107.8,19.9 -103.5,19 -99.2,18.3 -97,18 -92.7,17.4 -88.4,16.9 -84.1,16.5 -79.8,16.2 -77.6,16.1 -73.3,15.9 -69,15.9 -64.7,16.1 -62.5,16.2 -58.2,16.5 -53.9,17 -49.6,17.6 -46,18.2 -43.1,18.7 -38.8,19.4 -35.1,20.2 -32.3,20.8 -28,22.1 -25.9,22.9 -22.6,24.2 -19.4,25.7 -17.2,26.7 -13.8,28.2 -10.8,29.5 -8.6,30.3 -4.3,31.5 0,32 4.3,31.6 8.6,30.4 10.8,29.7 14.1,28.2 17.3,26.8 19.4,25.8 22.8,24.2 25.9,22.9 28,22.1 32.3,20.8 34.9,20.2 38.8,19.4 43.1,18.6 45.7,18.2 49.6,17.5 53.9,16.9 58.2,16.5 62.5,16.2 64.7,16.1 69,15.9 73.3,16 77.6,16.1 79.8,16.3 84.1,16.6 88.4,17 92.7,17.5 97,18.1 99.2,18.4 103.5,19.2 107.8,20 110,20.4 114.3,21.2 118.6,21.9 120.8,22.3 125.1,23.2 129.2,24.2 131.5,24.9 135.3,26.2 138,27.3 140.2,28.3 144,30.3 146.6,31.8 148.8,33.1 150.9,34.6 153.5,36.3 156.4,38.3 159.6,40.2 161.7,41.2 164.7,42.4 168.2,43.7 170.3,44.5 M-166,161.4 -164.9,157.4 -163.9,153.6 -163.2,151.3 -162.1,147.3 -161.5,145.3 -160.4,141.2 -159.6,138.2 -158.8,135.2 -157.8,131.1 -157.3,129.1 -156.5,125.1 -155.8,121.1 -155.3,117 -155.1,115 -154.7,111 -154.3,106.9 -154,102.9 -153.7,98.9 -153.5,94.8 -153.2,90.8 -153,88.8 -152.4,84.7 -151.3,80.7 -150.4,78.7 -148.8,75.9 -146.6,72.6 -145.2,70.6 -143.6,68.6 -141.9,66.6 -140.1,64.6 -138,62.4 -135.8,60.2 -133.7,58 -131.5,56 -129.4,54 -127.2,52 -125.1,50.1 -122.9,48.3 -120.5,46.4 -117.8,44.4 -114.8,42.4 -112.1,41 -110,40.2 -105.7,39 -102.6,38.3 -99.2,37.6 -94.9,36.7 -92.7,36.2 -88.4,35.2 -84.5,34.3 -81.9,33.6 -77.6,32.4 -75.5,31.8 -71.2,30.6 -69,30.1 -64.7,29.6 -60.4,29.9 -57.4,30.3 -53.9,30.8 -49.6,31.4 -45.3,31.9 -41,32.1 -36.7,32.3 -34.5,32.4 -30.2,33.3 -27.9,34.3 -23.9,36.3 -21.6,37.5 -19.4,38.6 -15.8,40.4 -12.9,41.6 -10.7,42.4 -6.5,43.5 -2.2,44.2 2.2,44.2 6.5,43.6 10.8,42.5 12.9,41.7 16.3,40.4 19.4,38.9 21.6,37.8 24.3,36.3 28,34.4 30.2,33.4 34.5,32.4 36.7,32.3 41,32.1 45.3,31.8 49.6,31.3 53.9,30.7 56.9,30.3 60.4,29.9 64.7,29.6 69,30.2 71.2,30.8 75.5,32 77.6,32.7 81.9,33.9 84.1,34.4 88.4,35.3 92.7,36.2 94.9,36.6 99.2,37.5 103.4,38.3 105.7,38.8 110,39.9 112.1,40.4 116.4,41.8 118.6,42.6 122.7,44.4 125.1,45.5 127.2,46.7 130.2,48.4 133.2,50.4 135.8,52.4 138,54.1 140.2,55.8 142.3,57.5 144.5,59.3 146.6,61 148.8,62.7 151,64.6 153.4,66.6 155.5,68.6 157.4,70.8 159.6,73.7 161.5,76.7 162.6,78.7 163.9,82.1 164.5,84.7 164.9,88.8 165.1,92.8 165.2,96.8 165.2,100.9 165.2,104.9 165.1,108.9 165,113 164.9,117 164.8,121.1 164.7,125.1 164.7,129.1 164.8,133.2 164.8,137.2 164.9,141.2 165,145.3 165.1,149.3 165.1,153.3 165.1,157.4 165.1,161.4 M-149.5,161.4 -148.8,158.5 -148,155.3 -146.9,151.3 -146.4,149.3 -145.2,145.3 -144.5,142.6 -143.5,139.2 -142.4,135.2 -141.9,133.2 -141,129.1 -140.3,125.1 -140.1,123.1 -139.7,119 -139.6,115 -139.6,111 -139.5,106.9 -139.2,102.9 -138.7,98.9 -138.2,94.8 -138,92.8 -137.4,88.8 -136.3,84.7 -135.6,82.7 -134.1,78.7 -133.2,76.7 -131.5,73.5 -129.8,70.6 -128.4,68.6 -126.8,66.6 -125.1,64.5 -122.9,62.2 -120.7,60 -118.6,58.1 -116.4,56.2 -114.2,54.5 -111.5,52.5 -108.7,50.4 -105.7,48.7 -103.5,47.7 -100.2,46.4 -97,45.4 -93.6,44.4 -90.6,43.6 -86.2,42.4 -84.1,41.9 -79.8,40.7 -77.6,40.1 -73.3,38.6 -71.2,37.9 -66.8,36.8 -62.5,36.3 -58.2,36.5 -53.9,36.9 -49.6,37.5 -45.3,38 -41,38.2 -36.7,38.1 -33.9,38.3 -30.2,39.1 -27,40.4 -23.7,41.7 -21.6,42.7 -17.7,44.4 -15.1,45.4 -12.1,46.4 -8.6,47.3 -4.3,48.1 0,48.4 4.3,48.1 8.6,47.4 12.4,46.4 15.1,45.5 18.3,44.4 21.6,43 23.7,42.1 27.8,40.4 30.2,39.5 34.5,38.5 36.7,38.3 41,38.2 45.3,38 49.6,37.4 53.9,36.8 58.2,36.3 60.4,36.2 63.9,36.3 66.8,36.7 71.2,37.9 73.3,38.6 77.6,40 79.8,40.5 84.1,41.4 88.4,42.2 90.6,42.6 94.9,43.4 99.2,44.3 101.3,44.8 105.7,45.9 107.8,46.5 112.1,47.9 114.3,48.7 118.4,50.4 120.8,51.6 122.9,52.7 125.6,54.5 128.2,56.5 130.6,58.5 132.8,60.5 134.8,62.5 136.8,64.6 138.6,66.6 140.3,68.6 142.3,71.3 144.4,74.6 145.4,76.7 146.6,79.7 147.8,82.7 148.8,85.8 149.5,88.8 150.1,92.8 150.5,96.8 150.9,100.9 151.1,102.9 151.2,106.9 151.1,111 150.9,113.2 150.7,117 150.4,121.1 150.3,125.1 150.3,129.1 150.4,133.2 150.6,137.2 150.8,141.2 150.9,144.5 151,147.3 151.1,151.3 151.1,155.3 151,159.4 150.9,161.4 M-124.4,161.4 -123.9,157.4 -123.3,153.3 -122.9,151.1 -122.2,147.3 -121.3,143.2 -120.7,141 -119.8,137.2 -118.8,133.2 -118.3,131.1 -117.4,127.1 -116.6,123.1 -116.4,121.1 -116.4,118.5 -117.2,115 -118.4,111 -119,108.9 -119.9,104.9 -120,100.9 -119.2,96.8 -118.6,94.8 -117.1,90.8 -116.2,88.8 -114.3,84.8 -113.1,82.7 -111.8,80.7 -110,78.1 -107.8,75.4 -105.7,73 -103.5,71 -101.3,69.2 -99.2,67.5 -97,65.9 -94.9,64.5 -91.5,62.5 -88.4,61 -86.2,59.9 -82.9,58.5 -79.8,57.3 -77.6,56.5 -73.3,54.9 -71.2,54.2 -66.8,52.9 -64.7,52.3 -60.4,51.3 -56.1,50.7 -52.8,50.4 -49.6,50.2 -45.3,50.1 -41,50.1 -36.7,50.2 -34,50.4 -30.2,51 -25.9,52 -23.7,52.6 -19.4,53.7 -16.4,54.5 -12.9,55.2 -8.6,56 -4.3,56.4 -2.2,56.5 0.1,56.5 4.3,56.2 8.6,55.7 12.9,54.9 15.3,54.5 19.4,53.6 23.7,52.8 25.9,52.4 30.2,51.7 34.5,51.1 38.8,50.7 41.6,50.4 45.3,50.2 49.6,50 53.9,50 58.2,50.2 60.4,50.4 64.7,51.1 69,51.9 71.8,52.5 75.5,53.2 79.8,54.2 81.9,54.7 86.2,55.7 89.4,56.5 92.7,57.5 95.6,58.5 99.2,59.9 101.3,60.9 104.6,62.5 107.8,64.4 110,65.8 112.1,67.5 114.3,69.3 116.4,71.3 118.6,73.7 120.8,76.2 122.6,78.7 124,80.7 125.2,82.7 127.2,86.4 128.4,88.8 129.4,91.1 130.7,94.8 131.5,97.8 132.1,100.9 132.1,104.9 131.5,107.5 130.6,111 129.4,114.9 128.8,117 128.4,121.1 128.8,125.1 129.3,129.1 129.5,131.1 129.9,135.2 130,139.2 130.1,143.2 129.9,147.3 129.6,151.3 129.4,153.8 128.9,157.4 128.3,161.4 M-110.5,161.4 -110.5,157.4 -110.4,153.3 -110.1,149.3 -109.9,147.3 -109.4,143.2 -108.9,139.2 -108.3,135.2 -107.8,132.4 -107.3,129.1 -106.8,125.1 -106.5,121.1 -106.4,117 -106.7,113 -106.9,108.9 -106.9,104.9 -106.4,100.9 -105.7,97.9 -104.5,94.8 -103.5,92.6 -101.3,88.8 -99.9,86.8 -98.4,84.7 -96.7,82.7 -94.9,80.7 -92.7,78.6 -90.6,76.6 -88.1,74.6 -85.4,72.6 -82.2,70.6 -79.8,69.2 -77.6,68.1 -74.4,66.6 -71.2,65.2 -69,64.4 -64.7,62.8 -62.5,62.1 -58.2,60.8 -56.1,60.3 -51.7,59.5 -47.4,58.9 -43.5,58.5 -41,58.3 -36.7,58.2 -32.3,58.5 -30.2,58.7 -25.9,59.3 -21.6,60 -18.6,60.5 -15.1,61.1 -10.8,61.7 -6.5,62.1 -2.2,62.2 2.2,62 6.5,61.5 10.8,60.9 12.9,60.5 17.3,59.9 21.6,59.3 25.9,59 30.2,58.9 34.5,58.8 38.8,58.8 43.1,58.6 45.3,58.5 49.2,58.5 51.8,58.7 56.1,59.1 60.4,59.8 64.4,60.5 66.8,61 71.2,61.9 74,62.5 77.6,63.4 81.4,64.6 84.1,65.5 86.8,66.6 90.6,68.4 92.7,69.6 94.9,70.9 97.5,72.6 100.3,74.6 102.7,76.7 105,78.7 107,80.7 108.8,82.7 110.5,84.7 112.1,87 114.3,90.5 115.5,92.8 116.5,94.8 118,98.9 118.6,101.6 119,104.9 119,108.9 118.7,113 118.5,115 118.3,119 118.6,123.1 118.8,125.1 119.2,129.1 119.4,133.2 119.3,137.2 119,141.2 118.6,144.8 118.2,147.3 117.5,151.3 116.6,155.3 116.1,157.4 115.1,161.4 M-97.7,161.4 -98.3,157.4 -98.7,153.3 -98.9,149.3 -99,145.3 -98.9,141.2 -98.7,137.2 -98.4,133.2 -98,129.1 -97.6,125.1 -97.3,121.1 -97,117 -96.9,115 -96.6,111 -96,106.9 -94.9,102.9 -94.2,100.9 -92.7,97.7 -91.1,94.8 -89.7,92.8 -88.2,90.8 -86.2,88.4 -84.1,86 -81.9,83.7 -79.8,81.8 -77.6,80 -75.5,78.4 -72.8,76.7 -69.3,74.6 -66.8,73.4 -64.7,72.5 -60.4,70.8 -58.2,70.1 -53.9,68.8 -51.7,68.3 -47.4,67.3 -43.1,66.6 -41,66.3 -36.7,66 -32.3,65.9 -28,65.9 -23.7,66.2 -19.4,66.6 -17.2,66.8 -12.9,67.3 -8.6,67.7 -4.3,67.9 0,67.8 4.3,67.2 7.8,66.6 10.8,66 15.1,65.3 19.4,64.8 23.5,64.6 24,64.6 28,64.7 32.3,65.2 36.7,65.7 41,66.1 45.3,66.2 49.6,66.3 52.4,66.6 56.1,67.1 60.4,68.1 62.5,68.7 66.8,70.1 69,70.8 73.3,72.1 75.5,72.7 79.7,74.6 81.9,76.1 84.1,77.6 86.2,79.1 88.4,80.8 90.9,82.7 93.3,84.7 95.7,86.8 97.8,88.8 99.5,90.8 101.3,93.5 103.3,96.8 104.3,98.9 105.7,102 106.7,104.9 107.6,108.9 107.7,113 107.8,117 108,119 108.6,123.1 109.4,127.1 109.9,131.1 110,133.2 109.9,135.2 109.3,139.2 108.5,143.2 107.8,145.9 106.9,149.3 105.7,153.3 105,155.3 103.6,159.4 102.9,161.4 M-73.9,161.4 -75.5,158.6 -77,155.3 -77.8,153.3 -79.3,149.3 -79.8,147.3 -80.7,143.2 -81.2,139.2 -81.3,135.2 -81.1,131.1 -80.9,127.1 -80.5,123.1 -79.9,119 -79.6,117 -78.9,113 -77.9,108.9 -77.3,106.9 -75.7,102.9 -74.7,100.9 -73.3,98.5 -71.2,95.8 -69,93.6 -66.8,91.8 -64.7,90.1 -62.5,88.7 -59.4,86.8 -56.1,85 -53.9,83.9 -51.7,82.7 -47.6,80.7 -45.3,79.7 -42.6,78.7 -38.8,77.5 -34.8,76.7 -32.3,76.3 -28,75.8 -23.7,75.7 -19.4,75.8 -15.1,76.1 -11.2,76.7 -8.6,77 -4.3,77.4 0,77.2 2.7,76.7 6.5,75.5 9.1,74.6 12.9,73.5 16.4,72.6 19.4,72.1 23.7,71.9 28,72.2 30.2,72.6 34.5,73.8 37.7,74.6 41,74.9 45.3,75 49.6,75.2 53.9,76.1 56.1,76.8 59.9,78.7 62.5,80.4 64.7,82.1 66.8,83.5 69,84.8 72.8,86.8 75.5,88.4 77.6,89.8 79.8,91.5 81.9,93.4 84.1,95.5 86.2,97.5 88.4,99.6 90.6,102.2 92.1,104.9 92.9,106.9 93.6,111 93.8,115 94.6,119 95.2,121.1 96.1,125.1 96.5,129.1 96.2,133.2 95.3,137.2 94.6,139.2 93,143.2 92.2,145.3 90.6,149.1 89.5,151.3 88.4,153.4 86.2,157.2 84.8,159.4 83.4,161.4 M20.4,86.8 23.7,85.5 28,84.9 32.3,85.6 36.7,86.5 38.8,86.8 43.1,87.6 47.4,88.3 49.6,88.9 53.3,90.8 55.9,92.8 58.1,94.8 60.4,96.8 62.5,98.8 64.7,100.6 66.8,102.4 69,104.1 71.2,105.8 73.3,107.5 75.5,109.2 77.6,111 79.8,113.3 81.5,117 80.6,121.1 79.6,123.1 77.6,125.8 75.5,128.1 73.3,129.8 71.2,131.2 67,133.2 64.7,133.9 60.4,134.9 58.2,135.3 53.9,136 50.2,137.2 47.4,138.6 45.3,139.7 42.3,141.2 38.8,142.8 36.7,143.7 32.3,145 30.2,145.5 25.9,146.2 21.6,146.4 17.3,146.3 12.9,145.8 10.4,145.3 6.5,144.2 3.6,143.2 0,141.8 -2.2,140.8 -5.4,139.2 -8.6,137.7 -10.8,136.9 -14.9,135.2 -17.2,134.1 -19.4,132.9 -22.4,131.1 -25.1,129.1 -27.2,127.1 -28.9,125.1 -30.3,123.1 -32,119 -32.5,117 -32.9,113 -32.5,108.9 -32,106.9 -30.2,103 -28.7,100.9 -26.9,98.9 -24.3,96.8 -21.6,95.5 -17.2,95.1 -12.9,96.1 -9.8,96.8 -6.5,97.4 -2.2,97.4 1,96.8 4.3,95.8 6.5,94.7 9.9,92.8 12.9,90.9 15.1,89.6 17.3,88.3 20.4,86.8"/></g><ellipse cx="0" cy="0" rx="159.5" ry="149.7" fill="none" stroke="#111" stroke-opacity=".7" stroke-width="1.5"/><path d="M-27.1,-147.5 L-5.6,-168.4 Q0,-171.4 5.6,-168.4 L27.1,-147.5" fill="none" stroke="#000" stroke-opacity=".35" stroke-width="1.5"/><path d="M-158.7,-33 Q-175.5,-40 -176.5,-10 L-177.5,25 Q-175.5,48 -158.7,40" fill="none" stroke="#000" stroke-opacity=".3" stroke-width="1.2"/><path d="M158.7,-33 Q175.5,-40 176.5,-10 L177.5,25 Q175.5,48 158.7,40" fill="none" stroke="#000" stroke-opacity=".3" stroke-width="1.2"/><g fill="#000" fill-opacity=".6"><circle cx="0" cy="-149" r="1.6"/><circle cx="-41.5" cy="-145.2" r="1.6"/><circle cx="41.5" cy="-145.2" r="1.6"/><circle cx="-52.6" cy="-115.3" r="1.6"/><circle cx="52.6" cy="-115.3" r="1.6"/><circle cx="-105.3" cy="-79.3" r="1.6"/><circle cx="-70.2" cy="-79.3" r="1.6"/><circle cx="-35.1" cy="-79.3" r="1.6"/><circle cx="0" cy="-79.3" r="1.6"/><circle cx="35.1" cy="-79.3" r="1.6"/><circle cx="70.2" cy="-79.3" r="1.6"/><circle cx="105.3" cy="-79.3" r="1.6"/><circle cx="-124.4" cy="-39.7" r="1.6"/><circle cx="-82.9" cy="-39.7" r="1.6"/><circle cx="-41.5" cy="-39.7" r="1.6"/><circle cx="0" cy="-39.7" r="1.6"/><circle cx="41.5" cy="-39.7" r="1.6"/><circle cx="82.9" cy="-39.7" r="1.6"/><circle cx="124.4" cy="-39.7" r="1.6"/><circle cx="-170.7" cy="0" r="1.6"/><circle cx="-127.6" cy="0" r="1.6"/><circle cx="-84.5" cy="0" r="1.6"/><circle cx="-42.3" cy="0" r="1.6"/><circle cx="0" cy="0" r="1.6"/><circle cx="42.3" cy="0" r="1.6"/><circle cx="84.5" cy="0" r="1.6"/><circle cx="127.6" cy="0" r="1.6"/><circle cx="170.7" cy="0" r="1.6"/><circle cx="-124.4" cy="39.7" r="1.6"/><circle cx="-82.9" cy="39.7" r="1.6"/><circle cx="-41.5" cy="39.7" r="1.6"/><circle cx="0" cy="39.7" r="1.6"/><circle cx="41.5" cy="39.7" r="1.6"/><circle cx="82.9" cy="39.7" r="1.6"/><circle cx="124.4" cy="39.7" r="1.6"/><circle cx="-105.3" cy="79.3" r="1.6"/><circle cx="-70.2" cy="79.3" r="1.6"/><circle cx="-35.1" cy="79.3" r="1.6"/><circle cx="0" cy="79.3" r="1.6"/><circle cx="35.1" cy="79.3" r="1.6"/><circle cx="70.2" cy="79.3" r="1.6"/><circle cx="105.3" cy="79.3" r="1.6"/><circle cx="-79.8" cy="115.3" r="1.6"/><circle cx="-52.6" cy="115.3" r="1.6"/><circle cx="0" cy="115.3" r="1.6"/><circle cx="52.6" cy="115.3" r="1.6"/><circle cx="79.8" cy="115.3" r="1.6"/><circle cx="0" cy="149.7" r="1.6"/><circle cx="-140.9" cy="-76.3" r="1.6"/><circle cx="-157.1" cy="-39.5" r="1.6"/><circle cx="-157.1" cy="39.5" r="1.6"/><circle cx="-140.9" cy="76.3" r="1.6"/><circle cx="-104.6" cy="117" r="1.6"/><circle cx="140.9" cy="-76.3" r="1.6"/><circle cx="157.1" cy="-39.5" r="1.6"/><circle cx="157.1" cy="39.5" r="1.6"/><circle cx="140.9" cy="76.3" r="1.6"/><circle cx="104.6" cy="117" r="1.6"/><circle cx="55.6" cy="143.5" r="1.6"/><circle cx="-55.6" cy="143.5" r="1.6"/></g></g>
</defs>
<rect width="2452" height="1750" fill="#fff"/>
<rect x="631" y="263" width="255.29999999999995" height="722.2" fill="#e0e0e5"/>
<g fill="none" stroke="#000"><path d="M450.0,38.25 V1030.5" stroke-width="7.2"/><path d="M164,260.3 H2432" stroke-width="5.9"/><path d="M167.1,260.3 V274.8 M731.3,260.3 V274.8 M1015,260.3 V286.3 M1296.5,260.3 V274.8 M1579.5,260.3 V286.3 M1863.5,260.3 V274.8 M2145,260.3 V286.3" stroke-width="6.2"/><path d="M450.0,40.9 H422.0 M450.0,478.8 H422.0 M450.0,697.2 H422.0 M450.0,916.2 H422.0" stroke-width="5.3"/></g>
<g>
<path d="M166,383.5 168.1,385.5 171.1,388.5 174.4,392.5 177.9,398.1 181.8,404.8 185.6,411 189.4,416.4 193.1,421.2 196.7,425 200,427.3 203.1,428.5 206,429 208.5,429 210.8,428.3 213,427 215.3,425.2 217.5,422.8 219.5,420 221.2,417 222.7,413.5 224.5,408.6 226.9,401.4 229.7,392.6 232.5,384 235.2,375.9 237.9,367.8 240.5,360 242.9,352.6 245.3,345.3 247.5,338 249.6,330.3 251.5,322.6 253.5,315 255.5,307.7 257.4,300.7 259.5,294 261.8,287.6 264.2,281.6 266.5,276 268.5,271.5 270.4,267.4 272.5,262 274.9,254.3 277.6,245.3 280.5,236 283.6,226.3 287,216.3 290.5,207 294.3,198.9 298.3,191.6 302,185 305.2,179.1 308.2,173.8 311,169 313.7,164.5 316.4,160.4 319,157 321.6,154.4 324.2,152.4 326.8,151.5 329.5,151.8 332.3,153.2 335,155 337.6,157.1 340.2,159.6 343,162.7 345.9,166.5 349.1,170.8 353,175 358.3,179.2 364.2,183.3 369.5,187 373.4,189.8 376.5,192.2 379.7,195 383.1,198.7 386.4,203 389.8,207.4 393.2,212.3 396.6,217.4 400,221.6 403.3,224.5 406.7,226.5 410,227.7 413.5,228 417,227.4 420.3,226.7 423.2,225.7 425.9,224.6 428.5,223.7 431.2,223.3 433.9,223.1 436.6,223.7 439.4,225.2 442.3,227.4 444.7,229.8 446.4,232.1 447.6,234.5 448.8,237.9 450.1,242.5 451.5,248 452.8,254 454.1,260.4 455.5,267.2 457,274.5 458.8,282.3 460.9,290.5 463,299 465.1,308.3 467.3,318 469.5,326 471.7,331.5 473.8,335.4 476,338.6 478.2,341.2 480.5,343.1 482.7,344.5 484.8,345.5 486.9,346.1 489.3,346.3 492.2,346.3 495.4,346 498.5,345.2 501.2,343.9 503.8,342.1 506.4,340 509.1,337.6 511.7,334.9 514.4,332 517,328.9 519.7,325.6 522.3,322.8 524.8,320.8 527.3,319.4 530.2,318.2 533.5,317.3 537.3,316.8 542,316.2 548.3,315.5 555.4,314.9 561.8,314.2 566.8,313.7 571.1,313.3 575,312.3 578.3,310.3 581.2,307.8 584.2,305.7 587.6,304.1 591.2,302.9 594.8,302.4 598.4,302.9 601.9,304.1 605.3,305.7 608.5,307.5 611.6,309.6 614.5,312.3 617.2,315.7 619.8,319.7 622.4,324 625.1,328.6 627.8,333.4 630.3,338.6 632.3,344 634.1,349.6 636.4,355.8 639.6,362.7 643.3,370.1 646.9,378 650.2,386.7 653.3,395.9 656.1,404.5 658.4,411.4 660.3,417.6 662.7,425.6 665.9,436.2 669.5,448.4 673,462 676.4,476.9 679.7,493.1 683,510 686.5,528.4 690,547.5 693,565 695.2,579.5 696.9,592.4 698.5,605 699.9,617.2 701.3,629.2 703.5,642.5 707.2,658.2 711.7,675.4 716,692.5 719.3,708.7 722.4,724.9 726,742.5 730.7,763.2 736,785.4 741,805 745.3,820.3 749.3,833.1 753.5,845 758.2,857.4 763.1,868.9 768,877.5 772.8,882.3 777.6,884.1 782.5,884 787.3,881.7 792.1,877.4 797.5,872.5 804,867 811,860.9 817.5,855 823,850 827.9,845.3 832.5,840 836.8,833.7 840.7,826.9 845,820 849.8,814.3 854.9,808.5 860,800 865.2,786.5 870.4,770.2 875,755 878.7,742.8 881.9,731.7 885,720 888.3,706.9 891.7,693.3 895,680 898.1,667.9 901.3,656 905,642.5 909.7,625.6 915,607.1 920,590 924.2,576.1 928.1,563.6 932.5,550 937.9,533.5 943.6,515.9 949,500 953.3,487 957.1,475.7 961.5,465 967.1,454.4 973.2,444.4 979,435 984.3,425.9 989.4,417.4 994,410 997.6,404 1000.8,399.1 1005,395 1011.1,391.4 1018.2,388.5 1025,387 1031.1,387.3 1037,389 1042.6,391 1048.1,393 1053.3,395.3 1058.4,398 1063.1,401.3 1067.6,405 1072.5,408.5 1078.3,411.4 1084.6,414.1 1090,417 1094.1,420.4 1097.3,424.2 1100.6,428 1104.2,432 1107.8,436.2 1111,440 1113.3,443.3 1115.1,446.3 1118,449 1122.8,451.7 1128.6,454 1134,455 1138.3,454 1142.1,451.7 1146,449 1150.3,446.3 1154.7,443.3 1158.6,440 1161.8,436.2 1164.6,432.1 1167.4,428 1170.1,423.8 1172.9,419.5 1176,415.6 1179.8,412.2 1184.1,409.2 1188.5,406.8 1193.1,404.7 1197.9,403.1 1202.5,403 1206.7,405.1 1210.8,408.5 1215,412 1219.3,414.8 1223.8,417.6 1229,421 1235.9,425.3 1243.6,430.1 1250,435 1253.7,439.7 1256.1,444.3 1258.8,449 1262.2,453.3 1265.9,457.6 1270,463 1274.5,470.1 1279.5,478.3 1285,487 1291.9,496.8 1299.3,507 1305.5,515.7 1309.2,520.9 1311.6,524.6 1314.5,529.9 1318.9,538.6 1323.8,549 1328.5,559.4 1332.6,569.3 1336.5,579.1 1340.2,589 1344,598.8 1347.7,608.7 1351,618.5 1353.8,628.3 1356.3,638.2 1358.8,648 1361.5,658.3 1364.3,668.6 1366.8,677.6 1368.9,684.6 1370.7,690.4 1372.5,696 1374.3,702 1376.1,707.8 1378,713 1379.9,717.5 1381.9,721.4 1384,725 1386,728.1 1388,730.8 1391,734 1395.1,738.3 1400.2,743 1406,747 1412.8,749.9 1420.4,752.2 1428,754 1435.4,755.5 1442.8,756.5 1450,757 1456.8,756.9 1463.4,756.2 1470,755 1476.7,753.3 1483.3,751 1490,748 1496.7,744.1 1503.3,739.6 1510,735 1516.8,730.4 1523.5,725.9 1530,722 1535.6,718.4 1541,715.5 1547.5,715 1556,718.3 1565.6,724.1 1575,730 1583.5,736.1 1591.8,742.3 1600,746 1608.7,745.3 1617.4,742.2 1625,740 1630.6,739.7 1635.2,740.4 1640,742.5 1645.8,746.6 1651.9,752 1657.5,757.5 1661.9,763.1 1665.6,768.7 1670,772.5 1675.6,773.3 1681.9,772.3 1687.5,771 1691.9,770.1 1695.8,768.8 1700,767 1704.5,764 1709.4,760.4 1715,757.5 1721.4,755.8 1728.6,754.8 1737.5,754 1749.7,753.8 1763.6,753.7 1775,752.5 1781.7,749 1785.8,744.2 1790,740 1795.1,736.4 1800.2,733.3 1805,732.5 1809.4,735.1 1813.4,739.9 1817.5,745 1821.7,750 1825.8,755.3 1830,760 1833.9,764 1837.8,767.5 1842.5,770 1848.4,771.2 1855.2,771.4 1862.5,771 1870.5,770.1 1879,768.5 1887.5,766 1896,761.9 1904.5,756.9 1912.5,752.5 1919.6,749.8 1926.2,747.8 1932.5,745 1938.7,740.2 1944.6,734.6 1950,730 1954.4,727.2 1958.1,725.3 1962.5,724 1968.1,723.6 1974.4,723.6 1980,722.5 1984.5,719.3 1988.5,714.9 1992.5,710 1996.7,704.4 2000.8,698.3 2005,692.5 2009.3,686.9 2013.5,681.5 2017.5,677.5 2020.7,675.2 2023.7,674.3 2027.5,675 2032.9,678.4 2039.1,683.4 2045,687.5 2050.2,689.7 2055.1,690.9 2060,691 2065.1,690 2070.2,688 2075,685 2079.2,680.7 2083.1,675.3 2087.5,670 2092.9,664.5 2098.8,659.1 2105,655 2111.5,653.2 2118.2,652.9 2125,652.5 2131.9,651.1 2138.9,649.7 2145,650 2149.7,653.1 2153.6,657.8 2157.5,662.5 2161.6,667.1 2165.6,671.7 2170,675 2174.8,676.4 2179.9,676.6 2185,676 2190.1,674.7 2195.2,672.6 2200,670 2204.4,667.5 2208.6,664.6 2212.5,660 2216,653 2219.3,644.3 2222.5,635 2225.8,624.9 2229.2,614.1 2232.5,605 2235.9,598.1 2239.4,592.7 2242.5,589 2245.1,587.1 2247.4,586.7 2250,587.5 2253.2,589.5 2256.7,592.6 2260,596 2262.6,599 2264.9,602.4 2268,607.5 2272.7,616 2278.1,626.4 2283,635 2285.6,640.7 2287.6,644.7 2293,647.5 2304.9,648.5 2320.2,648.3 2333,649 2340.4,651.6 2345.3,655.1 2350.5,659 2357.3,663.8 2364.3,669.1 2370.5,672.5 2374.9,673.1 2378.6,671.9 2383,670 2389.4,667 2396.6,663.3 2403,661 2407.6,661 2411.3,662.4 2415.5,665 2421.2,669.7 2427.4,675.7 2431.8,680" fill="none" stroke="#000" stroke-width="13" stroke-linecap="round" stroke-linejoin="round"/>
<path d="M166,349 169.3,350.4 173.9,352.5 178.5,355.5 182.6,359.7 186.6,364.8 190.6,370 194.5,375.4 198.3,381.1 201.8,386 204.8,390 207.5,393.3 210,396 212.2,398.4 214.2,400.2 216,401 217.8,400.6 219.4,399.3 221,397 222.2,393.9 223.3,390 225,385 227.5,379.1 230.5,372.2 233.9,364 237.7,354.1 241.8,343 246,331.4 250.2,318.8 254.4,305.7 258.1,294.8 261.1,287.7 263.6,282.8 266.1,278 268.8,273.1 271.6,268.2 274.3,262 276.9,253.7 279.5,244 282.3,233.8 285.6,223.1 289.3,211.8 292.7,201.3 295.8,191.5 298.7,182.5 301.5,175 304.3,169.6 307,165.8 309.5,163 311.5,160.9 313.3,159.9 315,160 316.6,161.4 318.1,164.1 320,168 322.6,173.5 325.7,180.2 328.9,187 332.2,193.8 335.6,200.7 339,207.4 342.3,213.9 345.6,220.1 349.2,225.7 353.1,230.4 357.3,234.5 361.4,237.9 365.5,240.4 369.7,242.2 373.6,244 377.1,245.9 380.4,247.7 383.7,250 387,253.1 390.4,256.6 393.9,260.2 397.7,263.8 401.7,267.3 406,270.4 410.8,272.9 415.8,274.9 420.3,276.5 423.9,277.7 426.9,278.6 430,279 433.4,278.9 436.8,278.3 440,278 442.9,277.7 445.5,277.6 448,279 450.5,282.7 452.9,287.9 455,293 456.8,297.5 458.4,301.9 460,306 461.7,309.8 463.4,313.2 465,316 466.2,317.7 467.4,318.8 469.5,320 473.3,321.7 478,323.6 482.7,325.4 487.1,327.3 491.6,329.2 496,330.7 500.4,331.7 504.7,332.3 509,332.7 513.1,332.9 517.1,332.8 522,332.7 528.6,332.4 536.1,332 542,332 545.1,332.5 546.8,333.4 548.6,334.7 551,336.6 553.5,338.8 556.5,341 560.3,343 564.5,345 568.4,346.5 571.7,347.6 574.7,348.4 577.6,348.5 580,347.6 582.4,346.2 585.5,345 590.3,344.3 595.9,343.9 601,344 605.1,344.8 608.6,346 612,347.8 615.1,350.1 618.1,352.8 621,355.8 624,358.7 627.1,361.9 630,366 632.7,371.6 635.4,378.1 638,384.8 640.7,391.2 643.4,397.8 646,404.5 648.1,409.5 650,414.6 652.7,425.6 656.9,447.4 661.9,475 666.5,500 670.1,518.5 673.3,534.2 676.5,550 679.9,566.9 683.4,583.9 686.5,600 689,614.2 691.2,627.5 694,642.5 697.8,660.6 702.1,680.5 706.5,700 710.7,718.7 714.8,737.1 719,755 723.2,772.2 727.3,788.9 731.5,805 735.7,820.6 739.8,835.7 744,850 748.2,863.5 752.3,876.2 756.5,887.5 760.8,897.3 765,905.8 769,913 772.4,918.7 775.5,923.1 779,927 782.8,930.9 787,934.3 792,937 798.6,938.7 806,939.7 812.5,940 817.3,939.9 821.1,939.3 825,937.5 829.3,934.5 833.6,930.5 837.5,925 840.8,917.9 843.7,909.4 847,900 850.9,889.7 855.2,878.6 859.5,867.5 863.7,856.6 867.8,845.6 872,835 876.2,825.1 880.3,815.5 884.5,805 888.8,793.1 893,780.3 897,767.5 900.6,755 903.9,742.5 907,730 909.6,717.5 911.8,705 914.5,692.5 918,680 921.9,667.5 925.5,655 928.5,642.3 931.2,629.7 933.5,617.5 935,606.4 936.2,595.8 938.5,584.7 942.6,572.7 947.8,560.3 953.2,547.8 958.3,535.5 963.5,523.1 969.2,510.8 976,498 983.3,485.3 989.6,473.9 994,464.2 997.4,455.9 1001.5,449.3 1007.4,444.5 1014.1,441.3 1019.8,440 1023.8,441 1027,443.8 1030,447 1033,450.4 1035.8,454.2 1039,457.8 1042.6,461 1046.5,464.1 1051.4,466.5 1058.1,468 1065.7,468.9 1072.5,470 1077.7,471.4 1082.1,472.9 1086.5,475.3 1091.1,478.8 1095.7,483.1 1100.6,487.6 1106.1,492.2 1112.1,497.1 1118,501.7 1124,506.1 1130.1,510.2 1135.7,514 1140.5,517.8 1144.8,521.3 1149,522.8 1153.2,521.4 1157.3,518.1 1162,514 1167.6,509.3 1173.7,503.7 1179.7,498 1185.5,492.3 1191.2,486.5 1197,480.6 1202.9,474.7 1208.9,468.9 1214.8,463 1220.7,457.1 1226.5,451.3 1232.4,445.4 1238.3,439.3 1244.3,433.2 1250,428 1255.6,423.6 1261.1,420.1 1266,418 1270,417.5 1273.5,418.5 1277,421 1281,425.5 1285,431.5 1288.6,438.4 1291.4,446 1293.8,454.4 1296.5,463 1299.6,471.9 1303,481 1306.5,490 1310.3,499.1 1314.1,508 1317.5,515.7 1319.8,520.7 1321.5,524.5 1324.1,529.9 1328.3,538.6 1333.3,549 1337.9,559.4 1341.8,569.3 1345.3,579.1 1348.7,589 1352.1,598.8 1355.3,608.7 1358.5,618.5 1361.6,628.3 1364.5,638.2 1367.5,648 1370.3,658 1373.2,668 1376.3,677.6 1380.1,686.8 1384.2,695.5 1388,703 1391.2,708.9 1394.1,713.7 1397,718 1399.6,721.7 1402.3,724.9 1406,729 1411.7,734.8 1418.6,741.5 1425,747.5 1430.4,752.3 1435.3,756.4 1440,760 1444.4,763.3 1448.4,766.1 1452.5,767.5 1456.6,767.1 1460.6,765.3 1465,762.5 1469.6,758.5 1474.5,753.5 1480,749 1486.6,745.4 1493.7,742.4 1500,740 1504.7,738.3 1508.6,737.4 1512.5,737.5 1516.7,739.4 1520.8,742.4 1525,745 1528.7,746.7 1532.4,747.9 1537.5,749 1544.9,749.8 1553.7,750.3 1562.5,751 1570.4,752 1578.2,753.2 1587.5,754 1600,754.3 1613.9,754.3 1625,754 1631,752.7 1634.3,751 1637.5,751 1641.7,753.3 1645.8,757.1 1650,762.5 1654.2,770.2 1658.3,779.4 1662.5,787.5 1666.9,793.7 1671.2,798.7 1675,802.5 1677.7,805 1679.8,806.1 1682.5,806 1686.1,804.7 1690.3,802 1695,797.5 1700.6,790.1 1706.9,780.9 1712.5,772.5 1717,765.7 1721,759.8 1725,755 1728.5,751.5 1732,749.1 1737.5,747.5 1746.9,747 1758.1,747.4 1767.5,747.5 1772.7,747 1775.9,746.3 1780,745 1786.3,742.8 1793.4,740 1800,737.5 1805.4,735.1 1810.2,733 1815,732.5 1819.8,734.5 1824.6,738.2 1830,742.5 1836.5,747.4 1843.5,752.9 1850,757.5 1855.4,760.9 1860.2,763.3 1865,764 1869.8,762.6 1874.6,759.4 1880,755 1886.5,749.1 1893.5,741.9 1900,735 1905.6,729 1910.6,723.2 1915,717.5 1918.7,711.5 1921.9,705.5 1925,700 1928.4,695.1 1931.9,690.8 1935,687.5 1937.6,685.3 1939.9,684.1 1942.5,684 1945.6,685.1 1949.1,687.2 1952.5,690 1955.7,693.9 1959,698.5 1962.5,702.5 1966.4,705.4 1970.6,707.7 1975,710 1979.8,712.4 1984.9,714.8 1990,717.5 1994.9,720.9 1999.8,724.6 2005,727.5 2010.8,729.4 2016.9,730.6 2022.5,731 2026.9,730.6 2030.8,729.5 2035,727.5 2039.4,723.9 2044.2,719.4 2050,716 2058,715.2 2067,715.6 2075,715 2080.7,712.2 2085.4,708.5 2090,705 2094.6,702.3 2099.3,699.8 2105,697.5 2112.8,694.9 2121.7,692.4 2130,691 2137.3,691.8 2144.1,693.8 2150,695 2154.7,695.1 2158.6,694.5 2162.5,692.5 2166.8,688.7 2171,683.5 2175,677.5 2178.7,670 2182.1,661.7 2185,655 2186.4,651.2 2187.2,649 2190,647.5 2196.3,646.5 2204.5,646.1 2212.5,646 2219.8,645.7 2226.8,645.7 2233,647 2237.8,650.4 2241.6,655.1 2245.5,660 2249.8,665.2 2254,670.7 2258,675 2261.1,677.5 2264,678.9 2268,680 2273.9,680.9 2281,681.6 2288,682.5 2294.7,683.8 2301.3,685.4 2308,687 2314.8,688.8 2321.5,690.7 2328,692.5 2333.9,694.4 2339.6,696.2 2345.5,697.5 2352.3,698.1 2359.3,698.2 2365.5,697.5 2370.2,696 2374.1,693.7 2378,690 2382.2,684.2 2386.3,676.9 2390.5,670 2394.6,663.6 2398.6,657.5 2403,652.5 2407.9,649.2 2413,646.9 2418,645 2423.2,643 2428.2,641.2 2431.8,640" fill="none" stroke="#ff0000" stroke-width="12.2" stroke-linecap="round" stroke-linejoin="round"/>
<path d="M166,388 167.4,389.4 171.9,393.9 177,401.1 182.7,411 183.3,412 M213.1,426.8 214.6,424 217.6,415.9 220,402.5 221.2,389 M231.5,349.4 234.2,342.2 240,325.9 244.1,314.8 244.7,312.7 M255.5,273.3 256,272.2 260.2,262 264.2,250.5 268.3,238 268.7,236.6 M280.2,197.2 281.4,193.5 286.5,179 291.7,169.1 296.8,162.3 M334.2,155 335,155.5 338.9,158.7 343,163 347.5,169 353,175.5 361.2,181.8 361.8,182.2 M391.3,210.1 392.3,211.6 397.5,219 402.5,224.2 407.5,227.2 412.6,228.3 417.9,227.6 422.2,226.4 M450.6,244.6 450.8,245.2 452.8,254 454.8,263.7 457,274.5 458.9,282.7 M468.5,322.5 469.5,326 472.7,333.6 476,338.6 479.3,342.2 482.7,344.5 485.8,345.8 489.3,346.3 493.8,346.2 494.5,346.1 M524.4,319.4 526.2,316.5 530.4,308.8 535.6,299.3 541.8,288.1 543.4,285.4 M568,253 569.7,252.1 575,251 579.9,251.1 585.5,254.3 593.6,263.4 601,273.5 M616.8,311.2 618.9,314.5 623.7,322 628.2,330.8 632,340 633.6,348.6 633.9,350.9 M648.7,389 651,395.2 655.5,408 658.7,417.5 662,428 662.8,430.4 M674.3,469.7 675,472.9 680,497.2 683,512.6 M690.4,552.9 692.5,565 695.8,586.1 697.3,596.2 M702.5,636.8 703.5,642.5 709.4,666.7 712.8,679.3 M721.4,719.4 723.2,729.1 729.5,757.8 730.5,762.2 M740.2,802 741,805 746.8,826.7 753,843.8 M774.2,878.9 775,880 781.1,889.4 786,895 791.5,898.6 797.5,900 804.7,899.6 808.4,898.8 M838.7,875.1 842.3,868 853.4,844.1 855.8,838.7 M869.9,800.2 870,800 874.8,781.1 880,760 881.2,755.2 M891.1,715.4 892.5,710 897.4,690 902.7,670.5 M914.8,631.3 915.2,630 921.9,610 927.7,590.1 928.4,587 M938.1,547.1 940.3,537.3 947,515 952.8,503.3 M973.1,467.8 975.9,462 983,448 990.8,436.3 997,428.2 M1031.6,410.1 1035.4,410.4 1044.4,412 1054.2,415 1065,419 1068.6,420.3 M1107.9,431.4 1109.4,431.4 1122.6,429 1135.7,426 1145.7,425.7 1149.4,425.6 M1184.5,405.2 1186.6,404 1197,398 1207.6,391.6 1212.5,388.5 M1248.3,378.7 1248.8,378.9 1256,385.1 1260.8,393.8 1263.1,405 1263.5,407.5 M1281.9,442.5 1283.2,444.2 1289.7,453.1 1296.5,463.3 1301.3,470.6 M1321,506.4 1322.2,508.2 1327,515.7 1330,521.9 1333.7,529.9 1337,536.5 M1356.3,572.6 1357.2,574.2 1365.7,589 1373.4,602.1 M1396.3,636 1398.6,639 1414.2,659.3 1419.3,666.5 M1439.4,701.5 1445.1,706 1464.6,719.1 1471.5,723.4 M1501.5,748.8 1502.5,750 1516.4,765.3 1527.5,775.6 M1543.3,771.8 1545.4,770.2 1551.2,765 1560.2,768.3 1572.5,780.1 1574.7,782.2 M1610,800.1 1613.6,800.2 1626.7,799.4 1637.5,802 1646,807.8 1648.1,809 M1687.9,807.4 1691.2,806.5 1696.6,805 1704.6,806 1715.4,809.3 1723.7,809.5 1729.4,806.8 M1765.7,788.1 1768.6,788.2 1778.2,794.4 1791.8,807.5 1795,810.3 M1832.8,824.3 1834,824.4 1841,824 1849.6,819.4 1859.9,810.7 1870.1,806 1880.4,805.4 1881.8,805.3 M1921.7,796.1 1925.1,794.9 1932.5,790 1941.5,778.8 1947.6,770.4 M1983.6,753.8 1987.6,753.7 2005.3,753.7 2017.3,749.7 2023.6,741.5 2024.2,740.8 M2059.9,722.7 2060.6,722.7 2070,724 2076.9,727.5 2082.5,731 2087.5,731.6 2088.4,731.5 M2127.3,719.2 2134.5,715.9 2150,709 2162.7,703.8 2172.5,701 2176,702.3 M2211.5,707.8 2212,707.5 2220.8,697.3 2229,688.4 2236.7,680.8 2237,680.5 M2271,659.1 2275.6,656 2285.5,650 2292.9,647.8 2300,648 2305.3,649.1 M2332.5,677.5 2333.1,678.6 2337.6,687.5 2342.5,696.6 2347.7,705.9 2350.6,710.2 M2382.8,735.1 2385.1,736.2 2394.7,739.5 2408.3,739.2 2420.6,736.6" fill="none" stroke="#000" stroke-width="11.8" stroke-linecap="round" stroke-linejoin="round"/>
<g fill="#000"><circle cx="193.7" cy="426.1" r="6.1"/><circle cx="224.2" cy="371.7" r="6.1"/><circle cx="248.9" cy="295.8" r="6.1"/><circle cx="273.5" cy="219.8" r="6.1"/><circle cx="311.5" cy="153.2" r="6.1"/><circle cx="376" cy="192.3" r="6.1"/><circle cx="438.9" cy="225.1" r="6.1"/><circle cx="463.1" cy="299.6" r="6.1"/><circle cx="509.3" cy="337.4" r="6.1"/><circle cx="553.9" cy="271.4" r="6.1"/><circle cx="608.6" cy="289.2" r="6.1"/><circle cx="639.4" cy="367.4" r="6.1"/><circle cx="668.2" cy="447" r="6.1"/><circle cx="686.2" cy="529.8" r="6.1"/><circle cx="699.6" cy="613.5" r="6.1"/><circle cx="716.8" cy="696.4" r="6.1"/><circle cx="734.5" cy="779.2" r="6.1"/><circle cx="761.3" cy="859.2" r="6.1"/><circle cx="825" cy="894" r="6.1"/><circle cx="862.5" cy="822.5" r="6.1"/><circle cx="885.4" cy="738.2" r="6.1"/><circle cx="907.7" cy="653.7" r="6.1"/><circle cx="932.5" cy="570" r="6.1"/><circle cx="961.8" cy="488.4" r="6.1"/><circle cx="1009" cy="415.6" r="6.1"/><circle cx="1085" cy="426.4" r="6.1"/><circle cx="1165" cy="418.3" r="6.1"/><circle cx="1225.4" cy="377" r="6.1"/><circle cx="1266.8" cy="424.6" r="6.1"/><circle cx="1310" cy="485.7" r="6.1"/><circle cx="1345.1" cy="552" r="6.1"/><circle cx="1382.5" cy="617" r="6.1"/><circle cx="1426" cy="682.5" r="6.1"/><circle cx="1487.5" cy="730" r="6.1"/><circle cx="1587.5" cy="794" r="6.1"/><circle cx="1665" cy="812.5" r="6.1"/><circle cx="1744.5" cy="798" r="6.1"/><circle cx="1810" cy="819" r="6.1"/><circle cx="1899" cy="802" r="6.1"/><circle cx="1961" cy="759.5" r="6.1"/><circle cx="2038" cy="730.1" r="6.1"/><circle cx="2105.5" cy="728" r="6.1"/><circle cx="2189.5" cy="712.5" r="6.1"/><circle cx="2249.5" cy="668.3" r="6.1"/><circle cx="2320.3" cy="657.5" r="6.1"/><circle cx="2363" cy="722.5" r="6.1"/></g>
<path d="M188.4,361.1 190.6,364 196.4,372.4 201.8,380.5 206.2,386.8 210,392 210.7,393 M226.4,368.2 227.5,365 231,355 234.8,344.3 238.8,333 239.4,331.4 M251,292.1 251.7,288.8 255.2,277.1 259.4,267.3 263.5,256.3 263.9,255.4 M275.8,216.2 277.8,209.4 282.7,193.4 287.8,179.1 M317.8,158.4 319.1,158.6 322,160 325.1,162.6 328.9,166.7 334.5,173.2 341,181 344.8,185.8 M375.6,211.8 378.9,216 386,226 393.3,236.5 394.4,238 M422.5,267.4 425,268.3 430,269.5 435.1,269.9 440,270 444.2,270 448,271 451.2,274.8 454,280 456.6,285.9 459,292 461.4,297.9 463.5,302.2 M498.5,293.6 498.9,293.4 509,291 515.9,294.4 522,300.4 528.8,307.8 531.7,310.9 M569.2,301.4 571.3,301.3 579.6,303 590,307.2 599.3,312.1 605.1,315.9 M629.3,348.4 629.8,349.6 633.5,359.5 636.2,371.1 638.1,384.3 639.1,389.3 M652.7,427.9 653.8,430.5 659,445 664.1,463.9 665.2,468.3 M673.3,508.4 675,518.3 679.2,542.3 680.6,550.1 M687.8,590.4 688,591.6 691.9,613.7 696.1,631.8 M707.1,671.3 707.2,672 714.1,700.5 716.9,712.4 M726.2,752.3 727.5,758 734,785 736.1,793.4 M746.5,833.1 747,835 752.8,854.7 759,872 759.5,873.2 M779,909.3 780.2,911.2 785,916 790.9,917.1 797.5,915 805.1,909.6 812.5,902.5 812.8,902.1 M829.8,865.5 830,865 840.2,844.5 849.2,826.7 M860.1,787.3 863.9,778.1 873.7,756 876.3,750.3 M888.5,711.3 889,710 898,690.8 907,672.5 907,672.4 M919.4,633.4 921.3,626.4 926.9,605.7 929.6,596.3 M942.9,557.5 945,552 954.8,528.7 957.9,522 M977.2,485.9 978.3,484.3 987.1,468.9 996,452.3 996,452.3 M1022.4,422.1 1024.7,420.7 1032.1,416.7 1038.8,415.6 1045,417.5 1050.6,421 1055.6,426.1 1055.8,426.2 M1094.2,439.1 1099.5,442.1 1123.1,456.3 1126.8,458.4 M1165.4,458 1171.4,455.4 1194.1,444.3 1197,442.8 M1230.6,420.4 1232,420 1241,419 1250,419.6 1258.8,421 1263.1,421.1 M1293.1,445.1 1293.2,445.2 1298.9,456.8 1305.5,469.5 1308,474.2 M1327,510.5 1329.5,515.7 1332.3,522.6 1335.5,529.9 1341.1,540 M1361.8,575.4 1365.4,581.6 1371.8,596.4 1374.4,605.5 M1385,645.1 1385.7,648 1389.2,663.2 1392.4,677 M1406.2,715.2 1408,718 1413.1,724.8 1418,730 1421.9,733.7 1427,735 1429.9,734.3 M1466.2,727.7 1469,730.8 1477.5,740 1480.2,741.8 M1514.3,724.1 1517.5,720 1526.1,710.2 1535,700 1543.2,690 1550,682.5 1553.7,680.6 M1583.4,708.2 1586.6,710.9 1595.4,716.4 1605,716.8 1615.4,712.2 1618.4,710.8 M1656.9,703.7 1659.2,705.2 1666.4,713.6 1673.8,722.4 1681.5,731.5 1681.6,731.6 M1719,741.6 1721.6,740.2 1728.7,732.9 1736.8,728.3 1745.9,726.4 1753.4,725.7 1759.3,726.2 1766,730.1 1770.5,734.7 M1808,733.9 1811.8,731.6 1823.2,722.1 1834.6,709.5 1845.3,703 1855.5,702.8 1857.5,702.7 M1891.4,681.9 1892.7,680 1897.1,671.4 1903.9,663.9 1913.2,657.5 1914.9,656.5 M1954.3,649.3 1957.5,650 1974.5,661.3 1988.5,671.5 M2027.9,665.9 2033.2,665.1 2044.6,663.7 2055.4,660.7 2065.2,656.5 M2099.9,635.4 2103.5,633.8 2112.5,632.5 2122.2,637.6 2132.5,642.5 2144,640 2153.8,636.4 M2191.7,645.4 2195.3,646.3 2206.5,647.4 2217.5,648.6 2228.3,650.1 2230.2,650.9 M2258.2,680.1 2261,681.8 2266.9,683.9 2273.1,683.1 2279.6,679.5 2286.8,677 2294.7,675.7 2294.7,675.7 M2330,687.9 2331.4,688.6 2338.5,690.9 2345,691.2 2350.7,687.1 2355.6,678.4 2359.5,673.7 M2391.2,652.3 2393,650 2399.8,644.3 2408,640 2420.8,635.6 2425,634.4" fill="none" stroke="#ff0000" stroke-width="12.6" stroke-linecap="round" stroke-linejoin="round"/>
<g fill="#ff0000"><circle cx="170.9" cy="345.9" r="6.1"/><circle cx="219.7" cy="390.7" r="6.1"/><circle cx="245.3" cy="314.9" r="6.1"/><circle cx="269.4" cy="238.8" r="6.1"/><circle cx="297.2" cy="164.4" r="6.1"/><circle cx="356.2" cy="198.9" r="6.1"/><circle cx="405" cy="251.9" r="6.1"/><circle cx="477.4" cy="304" r="6.1"/><circle cx="547.3" cy="309.6" r="6.1"/><circle cx="617.2" cy="328.3" r="6.1"/><circle cx="644.4" cy="406" r="6.1"/><circle cx="669.1" cy="485.3" r="6.1"/><circle cx="683.7" cy="567.3" r="6.1"/><circle cx="700.7" cy="648.7" r="6.1"/><circle cx="720.9" cy="729.4" r="6.1"/><circle cx="740.4" cy="810.4" r="6.1"/><circle cx="767.2" cy="888.9" r="6.1"/><circle cx="823" cy="888" r="6.1"/><circle cx="854" cy="810" r="6.1"/><circle cx="882.5" cy="734" r="6.1"/><circle cx="913" cy="656" r="6.1"/><circle cx="935" cy="579.6" r="6.1"/><circle cx="965.4" cy="506.2" r="6.1"/><circle cx="1005.2" cy="437.4" r="6.1"/><circle cx="1072.5" cy="430.5" r="6.1"/><circle cx="1142.8" cy="464" r="6.1"/><circle cx="1211.3" cy="433" r="6.1"/><circle cx="1279.1" cy="426.3" r="6.1"/><circle cx="1316.3" cy="489.6" r="6.1"/><circle cx="1349.8" cy="555.2" r="6.1"/><circle cx="1378.9" cy="622.4" r="6.1"/><circle cx="1396.1" cy="694.1" r="6.1"/><circle cx="1446" cy="727.5" r="6.1"/><circle cx="1497" cy="739.4" r="6.1"/><circle cx="1567.5" cy="691" r="6.1"/><circle cx="1634" cy="703" r="6.1"/><circle cx="1696" cy="741" r="6.1"/><circle cx="1786" cy="741.5" r="6.1"/><circle cx="1874" cy="697.5" r="6.1"/><circle cx="1931" cy="650" r="6.1"/><circle cx="2005" cy="671" r="6.1"/><circle cx="2079" cy="646" r="6.1"/><circle cx="2171" cy="634.5" r="6.1"/><circle cx="2242.3" cy="662.9" r="6.1"/><circle cx="2310.5" cy="674.8" r="6.1"/><circle cx="2376.1" cy="669.6" r="6.1"/></g>
</g>
<rect x="1670.5" y="17" width="758.0999999999999" height="197.6" fill="#000"/><rect x="1677.1" y="22.4" width="744.8999999999999" height="186.79999999999998" fill="#fff"/>
<g fill="#000"><rect x="1696" y="77.1" width="162" height="13.7" rx="4"/><rect x="2056.8" y="77.1" width="55" height="13.7" rx="5.5"/><ellipse cx="2121.8" cy="84.2" rx="6.6" ry="4.9"/><rect x="2137.4" y="77.1" width="55.5" height="13.7" rx="5.5"/><ellipse cx="2204.5" cy="84.2" rx="7" ry="5.2"/></g>
<g fill="#ff0000"><rect x="1696" y="154.8" width="162" height="12.7" rx="4"/><rect x="2056.8" y="154.8" width="55" height="12.7" rx="5.5"/><ellipse cx="2121.8" cy="161.4" rx="6.6" ry="4.9"/><rect x="2137.4" y="154.8" width="55.5" height="12.7" rx="5.5"/><ellipse cx="2204.5" cy="161.4" rx="7" ry="5.2"/></g>
<g fill="#000">
<text transform="translate(339.9 72.2) scale(0.956 1)" font-size="76.8" stroke="#000" stroke-width=".9" fill="#000">−1</text>
<text transform="translate(363.9 509.2) scale(1.128 1)" font-size="73.6" stroke="#000" stroke-width=".9" fill="#000">1</text>
<text transform="translate(361.5 729) scale(1.255 1)" font-size="73.5" stroke="#000" stroke-width=".9" fill="#000">2</text>
<text transform="translate(363.1 947.6) scale(1.177 1)" font-size="72.9" stroke="#000" stroke-width=".9" fill="#000">3</text>
<text transform="translate(76.3 326) scale(1.077 1)" font-size="67.4" stroke="#000" stroke-width=".9" fill="#000">−100</text>
<text transform="translate(959.2 337.5) scale(1.126 1)" font-size="65.9" stroke="#000" stroke-width=".9" fill="#000">200</text>
<text transform="translate(1526.5 337.8) scale(1.107 1)" font-size="67.1" stroke="#000" stroke-width=".9" fill="#000">400</text>
<text transform="translate(2092 337.8) scale(1.123 1)" font-size="67.1" stroke="#000" stroke-width=".9" fill="#000">600</text>
<text transform="translate(1451.9 403.8) scale(1.026 1)" font-size="68.7" font-weight="700" fill="#000">Time(ms)</text>
<text transform="translate(59.3 374.3) rotate(-90) scale(0.888 1)" font-size="73.7" font-weight="700">Oz(μV)</text>
<text transform="translate(717.4 1064) scale(1.025 1)" font-size="85.5" stroke="#000" stroke-width=".9" fill="#000">P1</text>
<text transform="translate(1864.9 101.7) scale(1.106 1)" font-size="49" stroke="#000" stroke-width=".9" fill="#000">R1rR2r</text>
<text transform="translate(2226.4 101.7) scale(1.114 1)" font-size="49" stroke="#000" stroke-width=".9" fill="#000">R1rR2c</text>
<text transform="translate(1864.9 178) scale(1.108 1)" font-size="48.9" stroke="#000" stroke-width=".9" fill="#000">R1cR2r</text>
<text transform="translate(2226.4 178) scale(1.112 1)" font-size="48.9" stroke="#000" stroke-width=".9" fill="#000">R1cR2c</text>
<text transform="translate(525.7 1253) scale(1.056 1)" font-size="73.3" stroke="#000" stroke-width=".9" fill="#000">R1rR2r</text>
<text transform="translate(925.7 1253) scale(1.056 1)" font-size="73.3" stroke="#000" stroke-width=".9" fill="#000">R1rR2c</text>
<text transform="translate(1312.4 1255.5) scale(1.044 1)" font-size="74" stroke="#000" stroke-width=".9" fill="#000">R1cR2r</text>
<text transform="translate(1710.5 1253) scale(1.035 1)" font-size="74.8" stroke="#000" stroke-width=".9" fill="#000">R1cR2c</text>
<text transform="translate(1080.6 1725.1) scale(0.968 1)" font-size="75.5" stroke="#000" stroke-width=".9" fill="#000">70–150ms</text>
<text transform="translate(2249.6 1346.3) scale(1.335 1)" font-size="40.6" stroke="#000" stroke-width=".9" fill="#000">3</text>
<text transform="translate(2248.5 1473) scale(1.608 1)" font-size="39.4" stroke="#000" stroke-width=".9" fill="#000">0</text>
<text transform="translate(2244.2 1595.5) scale(1.095 1)" font-size="41.7" stroke="#000" stroke-width=".9" fill="#000">−3</text>
<text transform="translate(2349 1627.5) rotate(-90) scale(0.911 1)" font-size="56.1" font-weight="700">Amplitude(μV)</text>
</g>
<use href="#topo" x="646.3" y="1469"/>
<use href="#topo" x="1045.3" y="1468"/>
<use href="#topo" x="1445.3" y="1469"/>
<use href="#topo" x="1839" y="1469"/>
<rect x="2191.5" y="1301" width="42.0" height="313.5" fill="url(#cb)" stroke="#333" stroke-opacity=".6" stroke-width="1.5"/>
</svg>
</body></html>
